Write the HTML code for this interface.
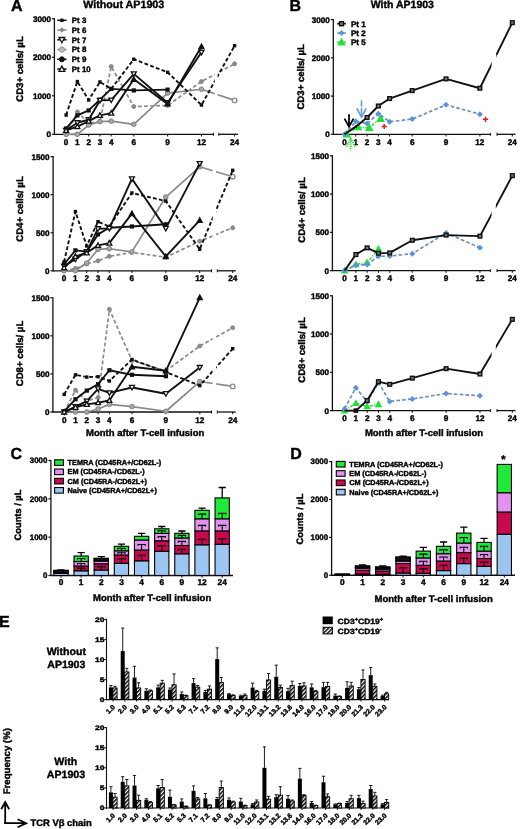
<!DOCTYPE html><html><head><meta charset="utf-8"><style>html,body{margin:0;padding:0;background:#fff;}svg{display:block;will-change:transform;font-family:"Liberation Sans",sans-serif;}text{stroke:#000;stroke-width:0.4px;text-rendering:geometricPrecision;}</style></head><body>
<svg width="520" height="829" viewBox="0 0 520 829" font-family="Liberation Sans, sans-serif" font-weight="bold">
<defs><pattern id="hatch" patternUnits="userSpaceOnUse" width="2.9" height="2.9" patternTransform="rotate(45)"><rect width="2.9" height="2.9" fill="#fff"/><rect width="1.5" height="2.9" fill="#000"/></pattern></defs>
<rect width="520" height="829" fill="#fff"/>
<text x="10.90" y="10.60" font-size="16" text-anchor="start" fill="#000" >A</text>
<text x="289.60" y="10.70" font-size="16" text-anchor="start" fill="#000" >B</text>
<text x="10.40" y="458.90" font-size="16" text-anchor="start" fill="#000" >C</text>
<text x="290.20" y="458.80" font-size="16" text-anchor="start" fill="#000" >D</text>
<text x="-1.00" y="626.70" font-size="16" text-anchor="start" fill="#000" >E</text>
<text x="83.20" y="8.00" font-size="10.72" text-anchor="start" fill="#000" >Without AP1903</text>
<text x="370.80" y="8.00" font-size="10.5" text-anchor="start" fill="#000" >With AP1903</text>
<line x1="54.40" y1="18.30" x2="54.40" y2="134.90" stroke="#111" stroke-width="1.3" />
<line x1="54.10" y1="134.30" x2="213.50" y2="134.30" stroke="#111" stroke-width="1.3" />
<line x1="218.80" y1="134.30" x2="238.00" y2="134.30" stroke="#111" stroke-width="1.3" />
<line x1="213.50" y1="132.80" x2="213.50" y2="135.80" stroke="#111" stroke-width="1.0" />
<line x1="218.80" y1="132.80" x2="218.80" y2="135.80" stroke="#111" stroke-width="1.0" />
<line x1="51.90" y1="134.30" x2="54.40" y2="134.30" stroke="#111" stroke-width="1.2" />
<text x="50.90" y="137.20" font-size="8.1" text-anchor="end" fill="#000" >0</text>
<line x1="51.90" y1="95.80" x2="54.40" y2="95.80" stroke="#111" stroke-width="1.2" />
<text x="50.90" y="98.70" font-size="8.1" text-anchor="end" fill="#000" >1000</text>
<line x1="51.90" y1="57.30" x2="54.40" y2="57.30" stroke="#111" stroke-width="1.2" />
<text x="50.90" y="60.20" font-size="8.1" text-anchor="end" fill="#000" >2000</text>
<line x1="51.90" y1="18.80" x2="54.40" y2="18.80" stroke="#111" stroke-width="1.2" />
<text x="50.90" y="21.70" font-size="8.1" text-anchor="end" fill="#000" >3000</text>
<line x1="66.10" y1="134.30" x2="66.10" y2="136.50" stroke="#111" stroke-width="1.0" />
<text x="66.10" y="144.90" font-size="8.2" text-anchor="middle" fill="#000" >0</text>
<line x1="77.38" y1="134.30" x2="77.38" y2="136.50" stroke="#111" stroke-width="1.0" />
<text x="77.38" y="144.90" font-size="8.2" text-anchor="middle" fill="#000" >1</text>
<line x1="88.66" y1="134.30" x2="88.66" y2="136.50" stroke="#111" stroke-width="1.0" />
<text x="88.66" y="144.90" font-size="8.2" text-anchor="middle" fill="#000" >2</text>
<line x1="99.94" y1="134.30" x2="99.94" y2="136.50" stroke="#111" stroke-width="1.0" />
<text x="99.94" y="144.90" font-size="8.2" text-anchor="middle" fill="#000" >3</text>
<line x1="111.22" y1="134.30" x2="111.22" y2="136.50" stroke="#111" stroke-width="1.0" />
<text x="111.22" y="144.90" font-size="8.2" text-anchor="middle" fill="#000" >4</text>
<line x1="133.78" y1="134.30" x2="133.78" y2="136.50" stroke="#111" stroke-width="1.0" />
<text x="133.78" y="144.90" font-size="8.2" text-anchor="middle" fill="#000" >6</text>
<line x1="167.62" y1="134.30" x2="167.62" y2="136.50" stroke="#111" stroke-width="1.0" />
<text x="167.62" y="144.90" font-size="8.2" text-anchor="middle" fill="#000" >9</text>
<line x1="201.46" y1="134.30" x2="201.46" y2="136.50" stroke="#111" stroke-width="1.0" />
<text x="201.46" y="144.90" font-size="8.2" text-anchor="middle" fill="#000" >12</text>
<line x1="234.60" y1="134.30" x2="234.60" y2="136.50" stroke="#111" stroke-width="1.0" />
<text x="234.60" y="144.90" font-size="8.2" text-anchor="middle" fill="#000" >24</text>
<text x="0" y="0" font-size="9.6" text-anchor="middle" dominant-baseline="central" transform="translate(20.80,69.00) rotate(-90)">CD3+ cells/ µL</text>
<path d="M66.10,134.30 L77.38,111.97 L88.66,123.14 L99.94,121.60 L111.22,66.54 L133.78,106.58 L167.62,105.43 L201.46,81.56 L234.60,63.84" fill="none" stroke="#8a8a8a" stroke-width="1.7" stroke-dasharray="3.8,2.3" stroke-linejoin="round"/>
<circle cx="66.10" cy="134.30" r="2.00" fill="#8a8a8a" stroke="#8a8a8a" stroke-width="1"/>
<circle cx="77.38" cy="111.97" r="2.00" fill="#8a8a8a" stroke="#8a8a8a" stroke-width="1"/>
<circle cx="88.66" cy="123.14" r="2.00" fill="#8a8a8a" stroke="#8a8a8a" stroke-width="1"/>
<circle cx="99.94" cy="121.60" r="2.00" fill="#8a8a8a" stroke="#8a8a8a" stroke-width="1"/>
<circle cx="111.22" cy="66.54" r="2.00" fill="#8a8a8a" stroke="#8a8a8a" stroke-width="1"/>
<circle cx="133.78" cy="106.58" r="2.00" fill="#8a8a8a" stroke="#8a8a8a" stroke-width="1"/>
<circle cx="167.62" cy="105.43" r="2.00" fill="#8a8a8a" stroke="#8a8a8a" stroke-width="1"/>
<circle cx="201.46" cy="81.56" r="2.00" fill="#8a8a8a" stroke="#8a8a8a" stroke-width="1"/>
<circle cx="234.60" cy="63.84" r="2.00" fill="#8a8a8a" stroke="#8a8a8a" stroke-width="1"/>
<path d="M66.10,134.30 L77.38,134.30 L88.66,125.06 L99.94,121.60 L111.22,121.21 L133.78,124.29 L167.62,93.11 L201.46,89.25 L234.60,100.42" fill="none" stroke="#8a8a8a" stroke-width="1.7"  stroke-linejoin="round"/>
<circle cx="66.10" cy="134.30" r="2.30" fill="#a8a8a8" stroke="#808080" stroke-width="1"/>
<circle cx="77.38" cy="134.30" r="2.30" fill="#a8a8a8" stroke="#808080" stroke-width="1"/>
<circle cx="88.66" cy="125.06" r="2.30" fill="#a8a8a8" stroke="#808080" stroke-width="1"/>
<circle cx="99.94" cy="121.60" r="2.30" fill="#a8a8a8" stroke="#808080" stroke-width="1"/>
<circle cx="111.22" cy="121.21" r="2.30" fill="#a8a8a8" stroke="#808080" stroke-width="1"/>
<circle cx="133.78" cy="124.29" r="2.30" fill="#a8a8a8" stroke="#808080" stroke-width="1"/>
<circle cx="167.62" cy="93.11" r="2.30" fill="#a8a8a8" stroke="#808080" stroke-width="1"/>
<circle cx="201.46" cy="89.25" r="2.30" fill="#a8a8a8" stroke="#808080" stroke-width="1"/>
<circle cx="234.60" cy="100.42" r="2.3" fill="#fff" stroke="#8a8a8a" stroke-width="1.3"/>
<path d="M66.10,115.05 L77.38,81.56 L88.66,100.03 L99.94,81.94 L111.22,88.87 L133.78,59.23 L167.62,72.31 L201.46,105.04 L234.60,45.75" fill="none" stroke="#111" stroke-width="1.9" stroke-dasharray="3.8,2.3" stroke-linejoin="round"/>
<rect x="64.40" y="113.35" width="3.40" height="3.40" fill="#111"/>
<rect x="75.68" y="79.86" width="3.40" height="3.40" fill="#111"/>
<rect x="86.96" y="98.33" width="3.40" height="3.40" fill="#111"/>
<rect x="98.24" y="80.24" width="3.40" height="3.40" fill="#111"/>
<rect x="109.52" y="87.17" width="3.40" height="3.40" fill="#111"/>
<rect x="132.08" y="57.53" width="3.40" height="3.40" fill="#111"/>
<rect x="165.92" y="70.61" width="3.40" height="3.40" fill="#111"/>
<rect x="199.76" y="103.34" width="3.40" height="3.40" fill="#111"/>
<rect x="232.90" y="44.05" width="3.40" height="3.40" fill="#111"/>
<path d="M66.10,128.53 L77.38,115.44 L88.66,110.43 L99.94,99.65 L111.22,88.87 L133.78,90.41 L167.62,89.64" fill="none" stroke="#111" stroke-width="1.9"  stroke-linejoin="round"/>
<rect x="64.00" y="126.43" width="4.20" height="4.20" fill="#111"/>
<rect x="75.28" y="113.34" width="4.20" height="4.20" fill="#111"/>
<rect x="86.56" y="108.33" width="4.20" height="4.20" fill="#111"/>
<rect x="97.84" y="97.55" width="4.20" height="4.20" fill="#111"/>
<rect x="109.12" y="86.77" width="4.20" height="4.20" fill="#111"/>
<rect x="131.68" y="88.31" width="4.20" height="4.20" fill="#111"/>
<rect x="165.52" y="87.54" width="4.20" height="4.20" fill="#111"/>
<path d="M66.10,130.45 L77.38,122.75 L88.66,119.67 L99.94,100.42 L111.22,100.03 L133.78,73.86 L167.62,102.73 L201.46,52.30" fill="none" stroke="#111" stroke-width="1.9"  stroke-linejoin="round"/>
<path d="M63.60,128.45 L68.60,128.45 L66.10,132.95Z" fill="#fff" stroke="#111" stroke-width="1.3"/>
<path d="M74.88,120.75 L79.88,120.75 L77.38,125.25Z" fill="#fff" stroke="#111" stroke-width="1.3"/>
<path d="M86.16,117.67 L91.16,117.67 L88.66,122.17Z" fill="#fff" stroke="#111" stroke-width="1.3"/>
<path d="M97.44,98.42 L102.44,98.42 L99.94,102.92Z" fill="#fff" stroke="#111" stroke-width="1.3"/>
<path d="M108.72,98.03 L113.72,98.03 L111.22,102.53Z" fill="#fff" stroke="#111" stroke-width="1.3"/>
<path d="M131.28,71.86 L136.28,71.86 L133.78,76.36Z" fill="#fff" stroke="#111" stroke-width="1.3"/>
<path d="M165.12,100.73 L170.12,100.73 L167.62,105.23Z" fill="#fff" stroke="#111" stroke-width="1.3"/>
<path d="M198.96,50.30 L203.96,50.30 L201.46,54.80Z" fill="#fff" stroke="#111" stroke-width="1.3"/>
<path d="M66.10,130.45 L77.38,126.60 L88.66,121.21 L99.94,115.44 L111.22,113.13 L133.78,79.25 L167.62,103.89 L201.46,46.52" fill="none" stroke="#111" stroke-width="1.9"  stroke-linejoin="round"/>
<path d="M63.60,132.45 L68.60,132.45 L66.10,127.95Z" fill="#fff" stroke="#111" stroke-width="1.3"/>
<path d="M74.88,128.60 L79.88,128.60 L77.38,124.10Z" fill="#fff" stroke="#111" stroke-width="1.3"/>
<path d="M86.16,123.21 L91.16,123.21 L88.66,118.71Z" fill="#fff" stroke="#111" stroke-width="1.3"/>
<path d="M97.44,117.44 L102.44,117.44 L99.94,112.94Z" fill="#fff" stroke="#111" stroke-width="1.3"/>
<path d="M108.72,115.13 L113.72,115.13 L111.22,110.63Z" fill="#fff" stroke="#111" stroke-width="1.3"/>
<path d="M131.28,81.25 L136.28,81.25 L133.78,76.75Z" fill="#111" stroke="#111" stroke-width="1.3"/>
<path d="M165.12,105.89 L170.12,105.89 L167.62,101.39Z" fill="#111" stroke="#111" stroke-width="1.3"/>
<path d="M198.96,48.52 L203.96,48.52 L201.46,44.02Z" fill="#111" stroke="#111" stroke-width="1.3"/>
<rect x="214.70" y="14.80" width="2.90" height="116.50" fill="#fff"/>
<line x1="53.10" y1="156.10" x2="53.10" y2="271.40" stroke="#111" stroke-width="1.3" />
<line x1="52.80" y1="270.80" x2="211.50" y2="270.80" stroke="#111" stroke-width="1.3" />
<line x1="217.30" y1="270.80" x2="235.80" y2="270.80" stroke="#111" stroke-width="1.3" />
<line x1="211.50" y1="269.30" x2="211.50" y2="272.30" stroke="#111" stroke-width="1.0" />
<line x1="217.30" y1="269.30" x2="217.30" y2="272.30" stroke="#111" stroke-width="1.0" />
<line x1="50.60" y1="270.80" x2="53.10" y2="270.80" stroke="#111" stroke-width="1.2" />
<text x="49.60" y="273.70" font-size="8.1" text-anchor="end" fill="#000" >0</text>
<line x1="50.60" y1="232.73" x2="53.10" y2="232.73" stroke="#111" stroke-width="1.2" />
<text x="49.60" y="235.63" font-size="8.1" text-anchor="end" fill="#000" >500</text>
<line x1="50.60" y1="194.67" x2="53.10" y2="194.67" stroke="#111" stroke-width="1.2" />
<text x="49.60" y="197.57" font-size="8.1" text-anchor="end" fill="#000" >1000</text>
<line x1="50.60" y1="156.60" x2="53.10" y2="156.60" stroke="#111" stroke-width="1.2" />
<text x="49.60" y="159.50" font-size="8.1" text-anchor="end" fill="#000" >1500</text>
<line x1="64.10" y1="270.80" x2="64.10" y2="273.00" stroke="#111" stroke-width="1.0" />
<text x="64.10" y="281.40" font-size="8.2" text-anchor="middle" fill="#000" >0</text>
<line x1="75.40" y1="270.80" x2="75.40" y2="273.00" stroke="#111" stroke-width="1.0" />
<text x="75.40" y="281.40" font-size="8.2" text-anchor="middle" fill="#000" >1</text>
<line x1="86.70" y1="270.80" x2="86.70" y2="273.00" stroke="#111" stroke-width="1.0" />
<text x="86.70" y="281.40" font-size="8.2" text-anchor="middle" fill="#000" >2</text>
<line x1="98.00" y1="270.80" x2="98.00" y2="273.00" stroke="#111" stroke-width="1.0" />
<text x="98.00" y="281.40" font-size="8.2" text-anchor="middle" fill="#000" >3</text>
<line x1="109.30" y1="270.80" x2="109.30" y2="273.00" stroke="#111" stroke-width="1.0" />
<text x="109.30" y="281.40" font-size="8.2" text-anchor="middle" fill="#000" >4</text>
<line x1="131.90" y1="270.80" x2="131.90" y2="273.00" stroke="#111" stroke-width="1.0" />
<text x="131.90" y="281.40" font-size="8.2" text-anchor="middle" fill="#000" >6</text>
<line x1="165.80" y1="270.80" x2="165.80" y2="273.00" stroke="#111" stroke-width="1.0" />
<text x="165.80" y="281.40" font-size="8.2" text-anchor="middle" fill="#000" >9</text>
<line x1="199.70" y1="270.80" x2="199.70" y2="273.00" stroke="#111" stroke-width="1.0" />
<text x="199.70" y="281.40" font-size="8.2" text-anchor="middle" fill="#000" >12</text>
<line x1="232.70" y1="270.80" x2="232.70" y2="273.00" stroke="#111" stroke-width="1.0" />
<text x="232.70" y="281.40" font-size="8.2" text-anchor="middle" fill="#000" >24</text>
<text x="0" y="0" font-size="9.6" text-anchor="middle" dominant-baseline="central" transform="translate(20.50,209.00) rotate(-90)">CD4+ cells/ µL</text>
<path d="M64.10,270.80 L75.40,268.52 L86.70,263.95 L98.00,260.83 L109.30,256.33 L131.90,252.38 L165.80,257.25 L199.70,241.18 L232.70,227.78" fill="none" stroke="#8a8a8a" stroke-width="1.7" stroke-dasharray="3.8,2.3" stroke-linejoin="round"/>
<circle cx="64.10" cy="270.80" r="2.00" fill="#8a8a8a" stroke="#8a8a8a" stroke-width="1"/>
<circle cx="75.40" cy="268.52" r="2.00" fill="#8a8a8a" stroke="#8a8a8a" stroke-width="1"/>
<circle cx="86.70" cy="263.95" r="2.00" fill="#8a8a8a" stroke="#8a8a8a" stroke-width="1"/>
<circle cx="98.00" cy="260.83" r="2.00" fill="#8a8a8a" stroke="#8a8a8a" stroke-width="1"/>
<circle cx="109.30" cy="256.33" r="2.00" fill="#8a8a8a" stroke="#8a8a8a" stroke-width="1"/>
<circle cx="131.90" cy="252.38" r="2.00" fill="#8a8a8a" stroke="#8a8a8a" stroke-width="1"/>
<circle cx="165.80" cy="257.25" r="2.00" fill="#8a8a8a" stroke="#8a8a8a" stroke-width="1"/>
<circle cx="199.70" cy="241.18" r="2.00" fill="#8a8a8a" stroke="#8a8a8a" stroke-width="1"/>
<circle cx="232.70" cy="227.78" r="2.00" fill="#8a8a8a" stroke="#8a8a8a" stroke-width="1"/>
<path d="M64.10,270.80 L75.40,270.80 L86.70,263.03 L98.00,249.33 L109.30,248.72 L131.90,251.92 L165.80,197.03 L199.70,166.80 L232.70,176.70" fill="none" stroke="#8a8a8a" stroke-width="1.7"  stroke-linejoin="round"/>
<circle cx="64.10" cy="270.80" r="2.30" fill="#a8a8a8" stroke="#808080" stroke-width="1"/>
<circle cx="75.40" cy="270.80" r="2.30" fill="#a8a8a8" stroke="#808080" stroke-width="1"/>
<circle cx="86.70" cy="263.03" r="2.30" fill="#a8a8a8" stroke="#808080" stroke-width="1"/>
<circle cx="98.00" cy="249.33" r="2.30" fill="#a8a8a8" stroke="#808080" stroke-width="1"/>
<circle cx="109.30" cy="248.72" r="2.30" fill="#a8a8a8" stroke="#808080" stroke-width="1"/>
<circle cx="131.90" cy="251.92" r="2.30" fill="#a8a8a8" stroke="#808080" stroke-width="1"/>
<circle cx="165.80" cy="197.03" r="2.30" fill="#a8a8a8" stroke="#808080" stroke-width="1"/>
<circle cx="199.70" cy="166.80" r="2.30" fill="#a8a8a8" stroke="#808080" stroke-width="1"/>
<circle cx="232.70" cy="176.70" r="2.3" fill="#fff" stroke="#8a8a8a" stroke-width="1.3"/>
<path d="M64.10,261.97 L75.40,211.57 L86.70,245.98 L98.00,221.62 L109.30,226.49 L131.90,192.99 L165.80,201.06 L199.70,249.25 L232.70,170.30" fill="none" stroke="#111" stroke-width="1.9" stroke-dasharray="3.8,2.3" stroke-linejoin="round"/>
<rect x="62.40" y="260.27" width="3.40" height="3.40" fill="#111"/>
<rect x="73.70" y="209.87" width="3.40" height="3.40" fill="#111"/>
<rect x="85.00" y="244.28" width="3.40" height="3.40" fill="#111"/>
<rect x="96.30" y="219.92" width="3.40" height="3.40" fill="#111"/>
<rect x="107.60" y="224.79" width="3.40" height="3.40" fill="#111"/>
<rect x="130.20" y="191.29" width="3.40" height="3.40" fill="#111"/>
<rect x="164.10" y="199.36" width="3.40" height="3.40" fill="#111"/>
<rect x="198.00" y="247.55" width="3.40" height="3.40" fill="#111"/>
<rect x="231.00" y="168.60" width="3.40" height="3.40" fill="#111"/>
<path d="M64.10,264.25 L75.40,250.32 L86.70,251.61 L98.00,234.41 L109.30,227.78 L131.90,226.49 L165.80,224.28" fill="none" stroke="#111" stroke-width="1.9"  stroke-linejoin="round"/>
<rect x="62.00" y="262.15" width="4.20" height="4.20" fill="#111"/>
<rect x="73.30" y="248.22" width="4.20" height="4.20" fill="#111"/>
<rect x="84.60" y="249.51" width="4.20" height="4.20" fill="#111"/>
<rect x="95.90" y="232.31" width="4.20" height="4.20" fill="#111"/>
<rect x="107.20" y="225.68" width="4.20" height="4.20" fill="#111"/>
<rect x="129.80" y="224.39" width="4.20" height="4.20" fill="#111"/>
<rect x="163.70" y="222.18" width="4.20" height="4.20" fill="#111"/>
<path d="M64.10,266.23 L75.40,259.08 L86.70,251.61 L98.00,228.77 L109.30,228.39 L131.90,178.83 L165.80,228.39 L199.70,163.60" fill="none" stroke="#111" stroke-width="1.9"  stroke-linejoin="round"/>
<path d="M61.60,264.23 L66.60,264.23 L64.10,268.73Z" fill="#fff" stroke="#111" stroke-width="1.3"/>
<path d="M72.90,257.08 L77.90,257.08 L75.40,261.58Z" fill="#fff" stroke="#111" stroke-width="1.3"/>
<path d="M84.20,249.61 L89.20,249.61 L86.70,254.11Z" fill="#fff" stroke="#111" stroke-width="1.3"/>
<path d="M95.50,226.77 L100.50,226.77 L98.00,231.27Z" fill="#fff" stroke="#111" stroke-width="1.3"/>
<path d="M106.80,226.39 L111.80,226.39 L109.30,230.89Z" fill="#fff" stroke="#111" stroke-width="1.3"/>
<path d="M129.40,176.83 L134.40,176.83 L131.90,181.33Z" fill="#fff" stroke="#111" stroke-width="1.3"/>
<path d="M163.30,226.39 L168.30,226.39 L165.80,230.89Z" fill="#fff" stroke="#111" stroke-width="1.3"/>
<path d="M197.20,161.60 L202.20,161.60 L199.70,166.10Z" fill="#fff" stroke="#111" stroke-width="1.3"/>
<path d="M64.10,267.75 L75.40,256.33 L86.70,252.83 L98.00,245.37 L109.30,243.09 L131.90,213.62 L165.80,256.49 L199.70,220.32" fill="none" stroke="#111" stroke-width="1.9"  stroke-linejoin="round"/>
<path d="M61.60,269.75 L66.60,269.75 L64.10,265.25Z" fill="#fff" stroke="#111" stroke-width="1.3"/>
<path d="M72.90,258.33 L77.90,258.33 L75.40,253.83Z" fill="#fff" stroke="#111" stroke-width="1.3"/>
<path d="M84.20,254.83 L89.20,254.83 L86.70,250.33Z" fill="#fff" stroke="#111" stroke-width="1.3"/>
<path d="M95.50,247.37 L100.50,247.37 L98.00,242.87Z" fill="#fff" stroke="#111" stroke-width="1.3"/>
<path d="M106.80,245.09 L111.80,245.09 L109.30,240.59Z" fill="#fff" stroke="#111" stroke-width="1.3"/>
<path d="M129.40,215.62 L134.40,215.62 L131.90,211.12Z" fill="#111" stroke="#111" stroke-width="1.3"/>
<path d="M163.30,258.49 L168.30,258.49 L165.80,253.99Z" fill="#111" stroke="#111" stroke-width="1.3"/>
<path d="M197.20,222.32 L202.20,222.32 L199.70,217.82Z" fill="#111" stroke="#111" stroke-width="1.3"/>
<rect x="212.70" y="152.60" width="3.40" height="115.20" fill="#fff"/>
<line x1="52.90" y1="297.20" x2="52.90" y2="412.60" stroke="#111" stroke-width="1.3" />
<line x1="52.60" y1="412.00" x2="211.50" y2="412.00" stroke="#111" stroke-width="1.3" />
<line x1="217.30" y1="412.00" x2="235.80" y2="412.00" stroke="#111" stroke-width="1.3" />
<line x1="211.50" y1="410.50" x2="211.50" y2="413.50" stroke="#111" stroke-width="1.0" />
<line x1="217.30" y1="410.50" x2="217.30" y2="413.50" stroke="#111" stroke-width="1.0" />
<line x1="50.40" y1="412.00" x2="52.90" y2="412.00" stroke="#111" stroke-width="1.2" />
<text x="49.40" y="414.90" font-size="8.1" text-anchor="end" fill="#000" >0</text>
<line x1="50.40" y1="373.90" x2="52.90" y2="373.90" stroke="#111" stroke-width="1.2" />
<text x="49.40" y="376.80" font-size="8.1" text-anchor="end" fill="#000" >500</text>
<line x1="50.40" y1="335.80" x2="52.90" y2="335.80" stroke="#111" stroke-width="1.2" />
<text x="49.40" y="338.70" font-size="8.1" text-anchor="end" fill="#000" >1000</text>
<line x1="50.40" y1="297.70" x2="52.90" y2="297.70" stroke="#111" stroke-width="1.2" />
<text x="49.40" y="300.60" font-size="8.1" text-anchor="end" fill="#000" >1500</text>
<line x1="64.20" y1="412.00" x2="64.20" y2="414.20" stroke="#111" stroke-width="1.0" />
<text x="64.20" y="422.60" font-size="8.2" text-anchor="middle" fill="#000" >0</text>
<line x1="75.50" y1="412.00" x2="75.50" y2="414.20" stroke="#111" stroke-width="1.0" />
<text x="75.50" y="422.60" font-size="8.2" text-anchor="middle" fill="#000" >1</text>
<line x1="86.80" y1="412.00" x2="86.80" y2="414.20" stroke="#111" stroke-width="1.0" />
<text x="86.80" y="422.60" font-size="8.2" text-anchor="middle" fill="#000" >2</text>
<line x1="98.10" y1="412.00" x2="98.10" y2="414.20" stroke="#111" stroke-width="1.0" />
<text x="98.10" y="422.60" font-size="8.2" text-anchor="middle" fill="#000" >3</text>
<line x1="109.40" y1="412.00" x2="109.40" y2="414.20" stroke="#111" stroke-width="1.0" />
<text x="109.40" y="422.60" font-size="8.2" text-anchor="middle" fill="#000" >4</text>
<line x1="132.00" y1="412.00" x2="132.00" y2="414.20" stroke="#111" stroke-width="1.0" />
<text x="132.00" y="422.60" font-size="8.2" text-anchor="middle" fill="#000" >6</text>
<line x1="165.90" y1="412.00" x2="165.90" y2="414.20" stroke="#111" stroke-width="1.0" />
<text x="165.90" y="422.60" font-size="8.2" text-anchor="middle" fill="#000" >9</text>
<line x1="199.80" y1="412.00" x2="199.80" y2="414.20" stroke="#111" stroke-width="1.0" />
<text x="199.80" y="422.60" font-size="8.2" text-anchor="middle" fill="#000" >12</text>
<line x1="232.70" y1="412.00" x2="232.70" y2="414.20" stroke="#111" stroke-width="1.0" />
<text x="232.70" y="422.60" font-size="8.2" text-anchor="middle" fill="#000" >24</text>
<text x="0" y="0" font-size="9.6" text-anchor="middle" dominant-baseline="central" transform="translate(20.30,353.50) rotate(-90)">CD8+ cells/ µL</text>
<path d="M64.20,412.00 L75.50,390.21 L86.80,401.03 L98.10,397.52 L109.40,309.36 L132.00,360.49 L165.90,370.78 L199.80,346.01 L232.70,327.72" fill="none" stroke="#8a8a8a" stroke-width="1.7" stroke-dasharray="3.8,2.3" stroke-linejoin="round"/>
<circle cx="64.20" cy="412.00" r="2.00" fill="#8a8a8a" stroke="#8a8a8a" stroke-width="1"/>
<circle cx="75.50" cy="390.21" r="2.00" fill="#8a8a8a" stroke="#8a8a8a" stroke-width="1"/>
<circle cx="86.80" cy="401.03" r="2.00" fill="#8a8a8a" stroke="#8a8a8a" stroke-width="1"/>
<circle cx="98.10" cy="397.52" r="2.00" fill="#8a8a8a" stroke="#8a8a8a" stroke-width="1"/>
<circle cx="109.40" cy="309.36" r="2.00" fill="#8a8a8a" stroke="#8a8a8a" stroke-width="1"/>
<circle cx="132.00" cy="360.49" r="2.00" fill="#8a8a8a" stroke="#8a8a8a" stroke-width="1"/>
<circle cx="165.90" cy="370.78" r="2.00" fill="#8a8a8a" stroke="#8a8a8a" stroke-width="1"/>
<circle cx="199.80" cy="346.01" r="2.00" fill="#8a8a8a" stroke="#8a8a8a" stroke-width="1"/>
<circle cx="232.70" cy="327.72" r="2.00" fill="#8a8a8a" stroke="#8a8a8a" stroke-width="1"/>
<path d="M64.20,412.00 L75.50,412.00 L86.80,412.00 L98.10,408.95 L109.40,404.38 L132.00,406.59 L165.90,411.24 L199.80,381.52 L232.70,386.40" fill="none" stroke="#8a8a8a" stroke-width="1.7"  stroke-linejoin="round"/>
<circle cx="64.20" cy="412.00" r="2.30" fill="#a8a8a8" stroke="#808080" stroke-width="1"/>
<circle cx="75.50" cy="412.00" r="2.30" fill="#a8a8a8" stroke="#808080" stroke-width="1"/>
<circle cx="86.80" cy="412.00" r="2.30" fill="#a8a8a8" stroke="#808080" stroke-width="1"/>
<circle cx="98.10" cy="408.95" r="2.30" fill="#a8a8a8" stroke="#808080" stroke-width="1"/>
<circle cx="109.40" cy="404.38" r="2.30" fill="#a8a8a8" stroke="#808080" stroke-width="1"/>
<circle cx="132.00" cy="406.59" r="2.30" fill="#a8a8a8" stroke="#808080" stroke-width="1"/>
<circle cx="165.90" cy="411.24" r="2.30" fill="#a8a8a8" stroke="#808080" stroke-width="1"/>
<circle cx="199.80" cy="381.52" r="2.30" fill="#a8a8a8" stroke="#808080" stroke-width="1"/>
<circle cx="232.70" cy="386.40" r="2.3" fill="#fff" stroke="#8a8a8a" stroke-width="1.3"/>
<path d="M64.20,394.40 L75.50,374.81 L86.80,377.10 L98.10,376.72 L109.40,380.99 L132.00,359.50 L165.90,372.07 L199.80,385.63 L232.70,348.68" fill="none" stroke="#111" stroke-width="1.9" stroke-dasharray="3.8,2.3" stroke-linejoin="round"/>
<rect x="62.50" y="392.70" width="3.40" height="3.40" fill="#111"/>
<rect x="73.80" y="373.11" width="3.40" height="3.40" fill="#111"/>
<rect x="85.10" y="375.40" width="3.40" height="3.40" fill="#111"/>
<rect x="96.40" y="375.02" width="3.40" height="3.40" fill="#111"/>
<rect x="107.70" y="379.29" width="3.40" height="3.40" fill="#111"/>
<rect x="130.30" y="357.80" width="3.40" height="3.40" fill="#111"/>
<rect x="164.20" y="370.37" width="3.40" height="3.40" fill="#111"/>
<rect x="198.10" y="383.93" width="3.40" height="3.40" fill="#111"/>
<rect x="231.00" y="346.98" width="3.40" height="3.40" fill="#111"/>
<path d="M64.20,411.31 L75.50,399.20 L86.80,390.59 L98.10,384.19 L109.40,370.24 L132.00,374.81 L165.90,376.19" fill="none" stroke="#111" stroke-width="1.9"  stroke-linejoin="round"/>
<rect x="62.10" y="409.21" width="4.20" height="4.20" fill="#111"/>
<rect x="73.40" y="397.10" width="4.20" height="4.20" fill="#111"/>
<rect x="84.70" y="388.49" width="4.20" height="4.20" fill="#111"/>
<rect x="96.00" y="382.09" width="4.20" height="4.20" fill="#111"/>
<rect x="107.30" y="368.14" width="4.20" height="4.20" fill="#111"/>
<rect x="129.90" y="372.71" width="4.20" height="4.20" fill="#111"/>
<rect x="163.80" y="374.09" width="4.20" height="4.20" fill="#111"/>
<path d="M64.20,412.00 L75.50,406.67 L86.80,401.03 L98.10,388.84 L109.40,392.87 L132.00,387.46 L165.90,393.71 L199.80,367.50" fill="none" stroke="#111" stroke-width="1.9"  stroke-linejoin="round"/>
<path d="M61.70,410.00 L66.70,410.00 L64.20,414.50Z" fill="#fff" stroke="#111" stroke-width="1.3"/>
<path d="M73.00,404.67 L78.00,404.67 L75.50,409.17Z" fill="#fff" stroke="#111" stroke-width="1.3"/>
<path d="M84.30,399.03 L89.30,399.03 L86.80,403.53Z" fill="#fff" stroke="#111" stroke-width="1.3"/>
<path d="M95.60,386.84 L100.60,386.84 L98.10,391.34Z" fill="#fff" stroke="#111" stroke-width="1.3"/>
<path d="M106.90,390.87 L111.90,390.87 L109.40,395.37Z" fill="#fff" stroke="#111" stroke-width="1.3"/>
<path d="M129.50,385.46 L134.50,385.46 L132.00,389.96Z" fill="#fff" stroke="#111" stroke-width="1.3"/>
<path d="M163.40,391.71 L168.40,391.71 L165.90,396.21Z" fill="#fff" stroke="#111" stroke-width="1.3"/>
<path d="M197.30,365.50 L202.30,365.50 L199.80,370.00Z" fill="#fff" stroke="#111" stroke-width="1.3"/>
<path d="M64.20,412.00 L75.50,407.28 L86.80,404.38 L98.10,402.70 L109.40,400.42 L132.00,366.74 L165.90,370.78 L199.80,297.55" fill="none" stroke="#111" stroke-width="1.9"  stroke-linejoin="round"/>
<path d="M61.70,414.00 L66.70,414.00 L64.20,409.50Z" fill="#fff" stroke="#111" stroke-width="1.3"/>
<path d="M73.00,409.28 L78.00,409.28 L75.50,404.78Z" fill="#fff" stroke="#111" stroke-width="1.3"/>
<path d="M84.30,406.38 L89.30,406.38 L86.80,401.88Z" fill="#fff" stroke="#111" stroke-width="1.3"/>
<path d="M95.60,404.70 L100.60,404.70 L98.10,400.20Z" fill="#fff" stroke="#111" stroke-width="1.3"/>
<path d="M106.90,402.42 L111.90,402.42 L109.40,397.92Z" fill="#fff" stroke="#111" stroke-width="1.3"/>
<path d="M129.50,368.74 L134.50,368.74 L132.00,364.24Z" fill="#111" stroke="#111" stroke-width="1.3"/>
<path d="M163.40,372.78 L168.40,372.78 L165.90,368.28Z" fill="#111" stroke="#111" stroke-width="1.3"/>
<path d="M197.30,299.55 L202.30,299.55 L199.80,295.05Z" fill="#111" stroke="#111" stroke-width="1.3"/>
<rect x="212.70" y="293.70" width="3.40" height="115.30" fill="#fff"/>
<line x1="333.30" y1="19.10" x2="333.30" y2="134.90" stroke="#111" stroke-width="1.3" />
<line x1="333.00" y1="134.30" x2="490.40" y2="134.30" stroke="#111" stroke-width="1.3" />
<line x1="497.00" y1="134.30" x2="515.50" y2="134.30" stroke="#111" stroke-width="1.3" />
<line x1="490.40" y1="132.80" x2="490.40" y2="135.80" stroke="#111" stroke-width="1.0" />
<line x1="497.00" y1="132.80" x2="497.00" y2="135.80" stroke="#111" stroke-width="1.0" />
<line x1="330.80" y1="134.30" x2="333.30" y2="134.30" stroke="#111" stroke-width="1.2" />
<text x="329.80" y="137.20" font-size="8.1" text-anchor="end" fill="#000" >0</text>
<line x1="330.80" y1="96.07" x2="333.30" y2="96.07" stroke="#111" stroke-width="1.2" />
<text x="329.80" y="98.97" font-size="8.1" text-anchor="end" fill="#000" >1000</text>
<line x1="330.80" y1="57.83" x2="333.30" y2="57.83" stroke="#111" stroke-width="1.2" />
<text x="329.80" y="60.73" font-size="8.1" text-anchor="end" fill="#000" >2000</text>
<line x1="330.80" y1="19.60" x2="333.30" y2="19.60" stroke="#111" stroke-width="1.2" />
<text x="329.80" y="22.50" font-size="8.1" text-anchor="end" fill="#000" >3000</text>
<line x1="344.50" y1="134.30" x2="344.50" y2="136.50" stroke="#111" stroke-width="1.0" />
<text x="344.50" y="144.90" font-size="8.2" text-anchor="middle" fill="#000" >0</text>
<line x1="355.78" y1="134.30" x2="355.78" y2="136.50" stroke="#111" stroke-width="1.0" />
<text x="355.78" y="144.90" font-size="8.2" text-anchor="middle" fill="#000" >1</text>
<line x1="367.06" y1="134.30" x2="367.06" y2="136.50" stroke="#111" stroke-width="1.0" />
<text x="367.06" y="144.90" font-size="8.2" text-anchor="middle" fill="#000" >2</text>
<line x1="378.34" y1="134.30" x2="378.34" y2="136.50" stroke="#111" stroke-width="1.0" />
<text x="378.34" y="144.90" font-size="8.2" text-anchor="middle" fill="#000" >3</text>
<line x1="389.62" y1="134.30" x2="389.62" y2="136.50" stroke="#111" stroke-width="1.0" />
<text x="389.62" y="144.90" font-size="8.2" text-anchor="middle" fill="#000" >4</text>
<line x1="412.18" y1="134.30" x2="412.18" y2="136.50" stroke="#111" stroke-width="1.0" />
<text x="412.18" y="144.90" font-size="8.2" text-anchor="middle" fill="#000" >6</text>
<line x1="446.02" y1="134.30" x2="446.02" y2="136.50" stroke="#111" stroke-width="1.0" />
<text x="446.02" y="144.90" font-size="8.2" text-anchor="middle" fill="#000" >9</text>
<line x1="479.86" y1="134.30" x2="479.86" y2="136.50" stroke="#111" stroke-width="1.0" />
<text x="479.86" y="144.90" font-size="8.2" text-anchor="middle" fill="#000" >12</text>
<line x1="512.30" y1="134.30" x2="512.30" y2="136.50" stroke="#111" stroke-width="1.0" />
<text x="512.30" y="144.90" font-size="8.2" text-anchor="middle" fill="#000" >24</text>
<text x="0" y="0" font-size="9.6" text-anchor="middle" dominant-baseline="central" transform="translate(301.30,76.80) rotate(-90)">CD3+ cells/ µL</text>
<path d="M346.70,134.30 L357.98,127.04 L369.26,127.80 L380.54,118.62" fill="none" stroke="#22e033" stroke-width="1.5" stroke-dasharray="3,1.5,1,1.5" stroke-linejoin="round"/>
<path d="M343.40,136.94 L350.00,136.94 L346.70,131.00Z" fill="#22e033" stroke="#22e033" stroke-width="1.3"/>
<path d="M354.68,129.68 L361.28,129.68 L357.98,123.74Z" fill="#22e033" stroke="#22e033" stroke-width="1.3"/>
<path d="M365.96,130.44 L372.56,130.44 L369.26,124.50Z" fill="#22e033" stroke="#22e033" stroke-width="1.3"/>
<path d="M377.24,121.26 L383.84,121.26 L380.54,115.32Z" fill="#22e033" stroke="#22e033" stroke-width="1.3"/>
<path d="M344.50,134.30 L355.78,121.30 L367.06,123.59 L378.34,113.65 L389.62,121.68 L412.18,119.12 L446.02,104.86 L479.86,114.19" fill="none" stroke="#6f8fc0" stroke-width="1.7" stroke-dasharray="3.6,2.2" stroke-linejoin="round"/>
<path d="M344.50,131.30 L347.50,134.30 L344.50,137.30 L341.50,134.30Z" fill="#5a92dc"/>
<path d="M355.78,118.30 L358.78,121.30 L355.78,124.30 L352.78,121.30Z" fill="#5a92dc"/>
<path d="M367.06,120.59 L370.06,123.59 L367.06,126.59 L364.06,123.59Z" fill="#5a92dc"/>
<path d="M378.34,110.65 L381.34,113.65 L378.34,116.65 L375.34,113.65Z" fill="#5a92dc"/>
<path d="M389.62,118.68 L392.62,121.68 L389.62,124.68 L386.62,121.68Z" fill="#5a92dc"/>
<path d="M412.18,116.12 L415.18,119.12 L412.18,122.12 L409.18,119.12Z" fill="#5a92dc"/>
<path d="M446.02,101.86 L449.02,104.86 L446.02,107.86 L443.02,104.86Z" fill="#5a92dc"/>
<path d="M479.86,111.19 L482.86,114.19 L479.86,117.19 L476.86,114.19Z" fill="#5a92dc"/>
<path d="M344.50,134.30 L355.78,126.65 L367.06,117.48 L378.34,106.01 L389.62,98.55 L412.18,90.60 L446.02,78.86 L479.86,88.23 L512.30,22.66" fill="none" stroke="#111" stroke-width="1.9"  stroke-linejoin="round"/>
<circle cx="355.78" cy="126.65" r="1.3" fill="#111"/>
<rect x="365.21" y="115.63" width="3.70" height="3.70" fill="#777" stroke="#111" stroke-width="1.4"/>
<rect x="376.49" y="104.16" width="3.70" height="3.70" fill="#777" stroke="#111" stroke-width="1.4"/>
<rect x="387.77" y="96.70" width="3.70" height="3.70" fill="#777" stroke="#111" stroke-width="1.4"/>
<rect x="410.33" y="88.75" width="3.70" height="3.70" fill="#777" stroke="#111" stroke-width="1.4"/>
<rect x="444.17" y="77.01" width="3.70" height="3.70" fill="#777" stroke="#111" stroke-width="1.4"/>
<rect x="478.01" y="86.38" width="3.70" height="3.70" fill="#777" stroke="#111" stroke-width="1.4"/>
<rect x="510.45" y="20.81" width="3.70" height="3.70" fill="#777" stroke="#111" stroke-width="1.4"/>
<rect x="491.60" y="15.60" width="4.20" height="115.70" fill="#fff"/>
<rect x="492.00" y="54.30" width="4.40" height="4.40" fill="#fff"/>
<path d="M381.60,126.50 H386.80 M384.20,123.90 V129.10" stroke="#e0182a" stroke-width="1.5"/>
<path d="M482.90,119.30 H488.10 M485.50,116.70 V121.90" stroke="#e0182a" stroke-width="1.5"/>
<path d="M349.00,114.20 V126.10" fill="none" stroke="#000" stroke-width="1.8" /><path d="M344.50,118.60 L349.00,126.60 L353.50,118.60" fill="none" stroke="#000" stroke-width="1.8" stroke-linejoin="miter"/>
<path d="M361.50,100.20 V116.50" fill="none" stroke="#5f9be0" stroke-width="1.6" stroke-dasharray="6.5,1.2"/><path d="M356.80,108.40 L361.50,117.00 L366.20,108.40" fill="none" stroke="#5f9be0" stroke-width="1.6" stroke-linejoin="miter"/>
<path d="M346.6,146.6 L350.7,138.4 L355.2,146.6 M350.7,139 V150.5" fill="none" stroke="#22e033" stroke-width="1.7" stroke-dasharray="1.3,0.9"/>
<line x1="332.40" y1="155.30" x2="332.40" y2="271.20" stroke="#111" stroke-width="1.3" />
<line x1="332.10" y1="270.60" x2="490.40" y2="270.60" stroke="#111" stroke-width="1.3" />
<line x1="497.00" y1="270.60" x2="515.50" y2="270.60" stroke="#111" stroke-width="1.3" />
<line x1="490.40" y1="269.10" x2="490.40" y2="272.10" stroke="#111" stroke-width="1.0" />
<line x1="497.00" y1="269.10" x2="497.00" y2="272.10" stroke="#111" stroke-width="1.0" />
<line x1="329.90" y1="270.60" x2="332.40" y2="270.60" stroke="#111" stroke-width="1.2" />
<text x="328.90" y="273.50" font-size="8.1" text-anchor="end" fill="#000" >0</text>
<line x1="329.90" y1="232.33" x2="332.40" y2="232.33" stroke="#111" stroke-width="1.2" />
<text x="328.90" y="235.23" font-size="8.1" text-anchor="end" fill="#000" >500</text>
<line x1="329.90" y1="194.07" x2="332.40" y2="194.07" stroke="#111" stroke-width="1.2" />
<text x="328.90" y="196.97" font-size="8.1" text-anchor="end" fill="#000" >1000</text>
<line x1="329.90" y1="155.80" x2="332.40" y2="155.80" stroke="#111" stroke-width="1.2" />
<text x="328.90" y="158.70" font-size="8.1" text-anchor="end" fill="#000" >1500</text>
<line x1="344.60" y1="270.60" x2="344.60" y2="272.80" stroke="#111" stroke-width="1.0" />
<text x="344.60" y="281.20" font-size="8.2" text-anchor="middle" fill="#000" >0</text>
<line x1="355.88" y1="270.60" x2="355.88" y2="272.80" stroke="#111" stroke-width="1.0" />
<text x="355.88" y="281.20" font-size="8.2" text-anchor="middle" fill="#000" >1</text>
<line x1="367.16" y1="270.60" x2="367.16" y2="272.80" stroke="#111" stroke-width="1.0" />
<text x="367.16" y="281.20" font-size="8.2" text-anchor="middle" fill="#000" >2</text>
<line x1="378.44" y1="270.60" x2="378.44" y2="272.80" stroke="#111" stroke-width="1.0" />
<text x="378.44" y="281.20" font-size="8.2" text-anchor="middle" fill="#000" >3</text>
<line x1="389.72" y1="270.60" x2="389.72" y2="272.80" stroke="#111" stroke-width="1.0" />
<text x="389.72" y="281.20" font-size="8.2" text-anchor="middle" fill="#000" >4</text>
<line x1="412.28" y1="270.60" x2="412.28" y2="272.80" stroke="#111" stroke-width="1.0" />
<text x="412.28" y="281.20" font-size="8.2" text-anchor="middle" fill="#000" >6</text>
<line x1="446.12" y1="270.60" x2="446.12" y2="272.80" stroke="#111" stroke-width="1.0" />
<text x="446.12" y="281.20" font-size="8.2" text-anchor="middle" fill="#000" >9</text>
<line x1="479.96" y1="270.60" x2="479.96" y2="272.80" stroke="#111" stroke-width="1.0" />
<text x="479.96" y="281.20" font-size="8.2" text-anchor="middle" fill="#000" >12</text>
<line x1="512.30" y1="270.60" x2="512.30" y2="272.80" stroke="#111" stroke-width="1.0" />
<text x="512.30" y="281.20" font-size="8.2" text-anchor="middle" fill="#000" >24</text>
<text x="0" y="0" font-size="9.6" text-anchor="middle" dominant-baseline="central" transform="translate(302.30,210.00) rotate(-90)">CD4+ cells/ µL</text>
<path d="M344.60,270.60 L355.88,264.48 L367.16,262.64 L378.44,249.02" fill="none" stroke="#22e033" stroke-width="1.5" stroke-dasharray="3,1.5,1,1.5" stroke-linejoin="round"/>
<path d="M341.90,272.76 L347.30,272.76 L344.60,267.90Z" fill="#22e033" stroke="#22e033" stroke-width="1.3"/>
<path d="M353.18,266.64 L358.58,266.64 L355.88,261.78Z" fill="#22e033" stroke="#22e033" stroke-width="1.3"/>
<path d="M364.46,264.80 L369.86,264.80 L367.16,259.94Z" fill="#22e033" stroke="#22e033" stroke-width="1.3"/>
<path d="M375.74,251.18 L381.14,251.18 L378.44,246.32Z" fill="#22e033" stroke="#22e033" stroke-width="1.3"/>
<path d="M344.60,270.60 L355.88,265.24 L367.16,264.48 L378.44,256.29 L389.72,256.06 L412.28,253.69 L446.12,232.95 L479.96,247.72" fill="none" stroke="#6f8fc0" stroke-width="1.7" stroke-dasharray="3.6,2.2" stroke-linejoin="round"/>
<path d="M344.60,267.60 L347.60,270.60 L344.60,273.60 L341.60,270.60Z" fill="#5a92dc"/>
<path d="M355.88,262.24 L358.88,265.24 L355.88,268.24 L352.88,265.24Z" fill="#5a92dc"/>
<path d="M367.16,261.48 L370.16,264.48 L367.16,267.48 L364.16,264.48Z" fill="#5a92dc"/>
<path d="M378.44,253.29 L381.44,256.29 L378.44,259.29 L375.44,256.29Z" fill="#5a92dc"/>
<path d="M389.72,253.06 L392.72,256.06 L389.72,259.06 L386.72,256.06Z" fill="#5a92dc"/>
<path d="M412.28,250.69 L415.28,253.69 L412.28,256.69 L409.28,253.69Z" fill="#5a92dc"/>
<path d="M446.12,229.95 L449.12,232.95 L446.12,235.95 L443.12,232.95Z" fill="#5a92dc"/>
<path d="M479.96,244.72 L482.96,247.72 L479.96,250.72 L476.96,247.72Z" fill="#5a92dc"/>
<path d="M344.60,270.60 L355.88,254.53 L367.16,247.87 L378.44,253.23 L389.72,252.92 L412.28,240.29 L446.12,235.09 L479.96,236.16 L512.30,175.62" fill="none" stroke="#111" stroke-width="1.9"  stroke-linejoin="round"/>
<rect x="354.03" y="252.68" width="3.70" height="3.70" fill="#777" stroke="#111" stroke-width="1.4"/>
<rect x="365.31" y="246.02" width="3.70" height="3.70" fill="#777" stroke="#111" stroke-width="1.4"/>
<rect x="376.59" y="251.38" width="3.70" height="3.70" fill="#777" stroke="#111" stroke-width="1.4"/>
<rect x="387.87" y="251.07" width="3.70" height="3.70" fill="#777" stroke="#111" stroke-width="1.4"/>
<rect x="410.43" y="238.44" width="3.70" height="3.70" fill="#777" stroke="#111" stroke-width="1.4"/>
<rect x="444.27" y="233.24" width="3.70" height="3.70" fill="#777" stroke="#111" stroke-width="1.4"/>
<rect x="478.11" y="234.31" width="3.70" height="3.70" fill="#777" stroke="#111" stroke-width="1.4"/>
<rect x="510.45" y="173.77" width="3.70" height="3.70" fill="#777" stroke="#111" stroke-width="1.4"/>
<rect x="491.60" y="151.80" width="4.20" height="115.80" fill="#fff"/>
<rect x="492.20" y="209.10" width="4.40" height="4.40" fill="#fff"/>
<line x1="332.40" y1="295.30" x2="332.40" y2="411.20" stroke="#111" stroke-width="1.3" />
<line x1="332.10" y1="410.60" x2="490.40" y2="410.60" stroke="#111" stroke-width="1.3" />
<line x1="497.00" y1="410.60" x2="515.50" y2="410.60" stroke="#111" stroke-width="1.3" />
<line x1="490.40" y1="409.10" x2="490.40" y2="412.10" stroke="#111" stroke-width="1.0" />
<line x1="497.00" y1="409.10" x2="497.00" y2="412.10" stroke="#111" stroke-width="1.0" />
<line x1="329.90" y1="410.60" x2="332.40" y2="410.60" stroke="#111" stroke-width="1.2" />
<text x="328.90" y="413.50" font-size="8.1" text-anchor="end" fill="#000" >0</text>
<line x1="329.90" y1="372.33" x2="332.40" y2="372.33" stroke="#111" stroke-width="1.2" />
<text x="328.90" y="375.23" font-size="8.1" text-anchor="end" fill="#000" >500</text>
<line x1="329.90" y1="334.07" x2="332.40" y2="334.07" stroke="#111" stroke-width="1.2" />
<text x="328.90" y="336.97" font-size="8.1" text-anchor="end" fill="#000" >1000</text>
<line x1="329.90" y1="295.80" x2="332.40" y2="295.80" stroke="#111" stroke-width="1.2" />
<text x="328.90" y="298.70" font-size="8.1" text-anchor="end" fill="#000" >1500</text>
<line x1="344.60" y1="410.60" x2="344.60" y2="412.80" stroke="#111" stroke-width="1.0" />
<text x="344.60" y="421.20" font-size="8.2" text-anchor="middle" fill="#000" >0</text>
<line x1="355.88" y1="410.60" x2="355.88" y2="412.80" stroke="#111" stroke-width="1.0" />
<text x="355.88" y="421.20" font-size="8.2" text-anchor="middle" fill="#000" >1</text>
<line x1="367.16" y1="410.60" x2="367.16" y2="412.80" stroke="#111" stroke-width="1.0" />
<text x="367.16" y="421.20" font-size="8.2" text-anchor="middle" fill="#000" >2</text>
<line x1="378.44" y1="410.60" x2="378.44" y2="412.80" stroke="#111" stroke-width="1.0" />
<text x="378.44" y="421.20" font-size="8.2" text-anchor="middle" fill="#000" >3</text>
<line x1="389.72" y1="410.60" x2="389.72" y2="412.80" stroke="#111" stroke-width="1.0" />
<text x="389.72" y="421.20" font-size="8.2" text-anchor="middle" fill="#000" >4</text>
<line x1="412.28" y1="410.60" x2="412.28" y2="412.80" stroke="#111" stroke-width="1.0" />
<text x="412.28" y="421.20" font-size="8.2" text-anchor="middle" fill="#000" >6</text>
<line x1="446.12" y1="410.60" x2="446.12" y2="412.80" stroke="#111" stroke-width="1.0" />
<text x="446.12" y="421.20" font-size="8.2" text-anchor="middle" fill="#000" >9</text>
<line x1="479.96" y1="410.60" x2="479.96" y2="412.80" stroke="#111" stroke-width="1.0" />
<text x="479.96" y="421.20" font-size="8.2" text-anchor="middle" fill="#000" >12</text>
<line x1="512.30" y1="410.60" x2="512.30" y2="412.80" stroke="#111" stroke-width="1.0" />
<text x="512.30" y="421.20" font-size="8.2" text-anchor="middle" fill="#000" >24</text>
<text x="0" y="0" font-size="9.6" text-anchor="middle" dominant-baseline="central" transform="translate(302.30,350.00) rotate(-90)">CD8+ cells/ µL</text>
<path d="M344.60,410.60 L355.88,403.25 L367.16,406.47 L378.44,404.40" fill="none" stroke="#22e033" stroke-width="1.5" stroke-dasharray="3,1.5,1,1.5" stroke-linejoin="round"/>
<path d="M341.90,412.76 L347.30,412.76 L344.60,407.90Z" fill="#22e033" stroke="#22e033" stroke-width="1.3"/>
<path d="M353.18,405.41 L358.58,405.41 L355.88,400.55Z" fill="#22e033" stroke="#22e033" stroke-width="1.3"/>
<path d="M364.46,408.63 L369.86,408.63 L367.16,403.77Z" fill="#22e033" stroke="#22e033" stroke-width="1.3"/>
<path d="M375.74,406.56 L381.14,406.56 L378.44,401.70Z" fill="#22e033" stroke="#22e033" stroke-width="1.3"/>
<path d="M344.60,408.69 L355.88,387.64 L367.16,401.80 L378.44,382.67 L389.72,401.42 L412.28,398.97 L446.12,393.53 L479.96,395.75" fill="none" stroke="#6f8fc0" stroke-width="1.7" stroke-dasharray="3.6,2.2" stroke-linejoin="round"/>
<path d="M344.60,405.69 L347.60,408.69 L344.60,411.69 L341.60,408.69Z" fill="#5a92dc"/>
<path d="M355.88,384.64 L358.88,387.64 L355.88,390.64 L352.88,387.64Z" fill="#5a92dc"/>
<path d="M367.16,398.80 L370.16,401.80 L367.16,404.80 L364.16,401.80Z" fill="#5a92dc"/>
<path d="M378.44,379.67 L381.44,382.67 L378.44,385.67 L375.44,382.67Z" fill="#5a92dc"/>
<path d="M389.72,398.42 L392.72,401.42 L389.72,404.42 L386.72,401.42Z" fill="#5a92dc"/>
<path d="M412.28,395.97 L415.28,398.97 L412.28,401.97 L409.28,398.97Z" fill="#5a92dc"/>
<path d="M446.12,390.53 L449.12,393.53 L446.12,396.53 L443.12,393.53Z" fill="#5a92dc"/>
<path d="M479.96,392.75 L482.96,395.75 L479.96,398.75 L476.96,395.75Z" fill="#5a92dc"/>
<path d="M344.60,410.60 L355.88,410.60 L367.16,400.57 L378.44,381.67 L389.72,384.35 L412.28,378.15 L446.12,368.66 L479.96,374.02 L512.30,319.37" fill="none" stroke="#111" stroke-width="1.9"  stroke-linejoin="round"/>
<rect x="353.58" y="408.30" width="4.6" height="4.6" fill="#111"/>
<rect x="365.31" y="398.72" width="3.70" height="3.70" fill="#777" stroke="#111" stroke-width="1.4"/>
<rect x="376.59" y="379.82" width="3.70" height="3.70" fill="#777" stroke="#111" stroke-width="1.4"/>
<rect x="387.87" y="382.50" width="3.70" height="3.70" fill="#777" stroke="#111" stroke-width="1.4"/>
<rect x="410.43" y="376.30" width="3.70" height="3.70" fill="#777" stroke="#111" stroke-width="1.4"/>
<rect x="444.27" y="366.81" width="3.70" height="3.70" fill="#777" stroke="#111" stroke-width="1.4"/>
<rect x="478.11" y="372.17" width="3.70" height="3.70" fill="#777" stroke="#111" stroke-width="1.4"/>
<rect x="510.45" y="317.52" width="3.70" height="3.70" fill="#777" stroke="#111" stroke-width="1.4"/>
<rect x="491.60" y="291.80" width="4.20" height="115.80" fill="#fff"/>
<rect x="492.20" y="349.80" width="4.40" height="4.40" fill="#fff"/>
<line x1="57.20" y1="20.30" x2="66.60" y2="20.30" stroke="#111" stroke-width="1.5" />
<rect x="60.20" y="18.60" width="3.40" height="3.40" fill="#111"/>
<text x="71.80" y="23.10" font-size="7.9" text-anchor="start" fill="#000" >Pt 3</text>
<line x1="57.20" y1="30.05" x2="66.60" y2="30.05" stroke="#8a8a8a" stroke-width="1.5" />
<path d="M61.90,27.25 L64.70,30.05 L61.90,32.85 L59.10,30.05Z" fill="#8a8a8a"/>
<text x="71.80" y="32.85" font-size="7.9" text-anchor="start" fill="#000" >Pt 6</text>
<line x1="57.20" y1="39.80" x2="66.60" y2="39.80" stroke="#111" stroke-width="1.5" />
<path d="M59.00,37.48 L64.80,37.48 L61.90,42.70Z" fill="#fff" stroke="#111" stroke-width="1.3"/>
<text x="71.80" y="42.60" font-size="7.9" text-anchor="start" fill="#000" >Pt 7</text>
<line x1="57.20" y1="49.55" x2="66.60" y2="49.55" stroke="#8a8a8a" stroke-width="1.5" />
<circle cx="61.90" cy="49.55" r="2.70" fill="#bbb" stroke="#999" stroke-width="1"/>
<text x="71.80" y="52.35" font-size="7.9" text-anchor="start" fill="#000" >Pt 8</text>
<line x1="57.20" y1="59.30" x2="66.60" y2="59.30" stroke="#111" stroke-width="1.5" />
<circle cx="61.90" cy="59.30" r="2.50" fill="#111" stroke="#111" stroke-width="1"/>
<text x="71.80" y="62.10" font-size="7.9" text-anchor="start" fill="#000" >Pt 9</text>
<line x1="57.20" y1="69.05" x2="66.60" y2="69.05" stroke="#111" stroke-width="1.5" />
<path d="M59.00,71.37 L64.80,71.37 L61.90,66.15Z" fill="#fff" stroke="#111" stroke-width="1.3"/>
<text x="71.80" y="71.85" font-size="7.9" text-anchor="start" fill="#000" >Pt 10</text>
<line x1="337.20" y1="23.70" x2="345.90" y2="23.70" stroke="#111" stroke-width="1.6" />
<rect x="339.50" y="21.70" width="4.00" height="4.00" fill="#777" stroke="#111" stroke-width="1.4"/>
<text x="351.00" y="26.60" font-size="8.0" text-anchor="start" fill="#000" >Pt 1</text>
<line x1="337.20" y1="33.00" x2="345.90" y2="33.00" stroke="#6f8fc0" stroke-width="1.6" />
<path d="M341.50,30.10 L344.40,33.00 L341.50,35.90 L338.60,33.00Z" fill="#5a92dc"/>
<text x="351.00" y="35.90" font-size="8.0" text-anchor="start" fill="#000" >Pt 2</text>
<line x1="337.20" y1="42.30" x2="345.90" y2="42.30" stroke="#22e033" stroke-width="1.6" />
<path d="M338.40,44.78 L344.60,44.78 L341.50,39.20Z" fill="#22e033" stroke="#22e033" stroke-width="1.3"/>
<text x="351.00" y="45.20" font-size="8.0" text-anchor="start" fill="#000" >Pt 5</text>
<text x="145.20" y="436.40" font-size="9.5" text-anchor="middle" fill="#000" >Month after T-cell infusion</text>
<text x="424.00" y="436.40" font-size="9.5" text-anchor="middle" fill="#000" >Month after T-cell infusion</text>
<line x1="50.90" y1="460.00" x2="50.90" y2="576.10" stroke="#111" stroke-width="1.3" />
<line x1="50.60" y1="575.50" x2="233.00" y2="575.50" stroke="#111" stroke-width="1.4" />
<line x1="48.40" y1="575.50" x2="50.90" y2="575.50" stroke="#111" stroke-width="1.2" />
<text x="47.40" y="578.30" font-size="7.9" text-anchor="end" fill="#000" >0</text>
<line x1="48.40" y1="537.17" x2="50.90" y2="537.17" stroke="#111" stroke-width="1.2" />
<text x="47.40" y="539.97" font-size="7.9" text-anchor="end" fill="#000" >1000</text>
<line x1="48.40" y1="498.83" x2="50.90" y2="498.83" stroke="#111" stroke-width="1.2" />
<text x="47.40" y="501.63" font-size="7.9" text-anchor="end" fill="#000" >2000</text>
<line x1="48.40" y1="460.50" x2="50.90" y2="460.50" stroke="#111" stroke-width="1.2" />
<text x="47.40" y="463.30" font-size="7.9" text-anchor="end" fill="#000" >3000</text>
<text x="0" y="0" font-size="9.3" text-anchor="middle" dominant-baseline="central" transform="translate(17.50,515.00) rotate(-90)">Counts / µL</text>
<line x1="61.00" y1="575.50" x2="61.00" y2="577.70" stroke="#111" stroke-width="1.0" />
<text x="61.00" y="585.40" font-size="8.3" text-anchor="middle" fill="#000" >0</text>
<rect x="53.85" y="573.40" width="14.30" height="2.10" fill="#9cc5f2" stroke="#000" stroke-width="1.1"/>
<rect x="53.85" y="572.40" width="14.30" height="1.00" fill="#c8084f" stroke="#000" stroke-width="1.1"/>
<rect x="53.85" y="571.40" width="14.30" height="1.00" fill="#e391ee" stroke="#000" stroke-width="1.1"/>
<rect x="53.85" y="570.40" width="14.30" height="1.00" fill="#22e83a" stroke="#000" stroke-width="1.1"/>
<rect x="53.85" y="570.40" width="14.30" height="2.20" fill="#111" stroke="#000" stroke-width="1.1"/>
<path d="M61.00,570.40 V570.00 M57.40,570.00 H64.60" stroke="#000" stroke-width="1.3" fill="none"/>
<line x1="81.15" y1="575.50" x2="81.15" y2="577.70" stroke="#111" stroke-width="1.0" />
<text x="81.15" y="585.40" font-size="8.3" text-anchor="middle" fill="#000" >1</text>
<rect x="74.00" y="570.80" width="14.30" height="4.70" fill="#9cc5f2" stroke="#000" stroke-width="1.1"/>
<rect x="74.00" y="566.00" width="14.30" height="4.80" fill="#c8084f" stroke="#000" stroke-width="1.1"/>
<rect x="74.00" y="561.50" width="14.30" height="4.50" fill="#e391ee" stroke="#000" stroke-width="1.1"/>
<rect x="74.00" y="556.00" width="14.30" height="5.50" fill="#22e83a" stroke="#000" stroke-width="1.1"/>
<path d="M81.15,570.80 V568.16 M77.55,569.36 V568.16 H84.75 V569.36" stroke="#000" stroke-width="1.1" fill="none"/>
<path d="M81.15,566.00 V563.52 M77.55,564.73 V563.52 H84.75 V564.73" stroke="#000" stroke-width="1.1" fill="none"/>
<path d="M81.15,561.50 V558.48 M77.55,559.68 V558.48 H84.75 V559.68" stroke="#000" stroke-width="1.1" fill="none"/>
<path d="M81.15,556.00 V552.60 M77.55,552.60 H84.75" stroke="#000" stroke-width="1.3" fill="none"/>
<line x1="101.30" y1="575.50" x2="101.30" y2="577.70" stroke="#111" stroke-width="1.0" />
<text x="101.30" y="585.40" font-size="8.3" text-anchor="middle" fill="#000" >2</text>
<rect x="94.15" y="570.00" width="14.30" height="5.50" fill="#9cc5f2" stroke="#000" stroke-width="1.1"/>
<rect x="94.15" y="563.80" width="14.30" height="6.20" fill="#c8084f" stroke="#000" stroke-width="1.1"/>
<rect x="94.15" y="561.00" width="14.30" height="2.80" fill="#e391ee" stroke="#000" stroke-width="1.1"/>
<rect x="94.15" y="558.40" width="14.30" height="2.60" fill="#22e83a" stroke="#000" stroke-width="1.1"/>
<path d="M101.30,570.00 V566.59 M97.70,567.79 V566.59 H104.90 V567.79" stroke="#000" stroke-width="1.1" fill="none"/>
<rect x="94.15" y="558.40" width="14.30" height="2.40" fill="#111" stroke="#000" stroke-width="1.1"/>
<path d="M101.30,558.40 V556.60 M97.70,556.60 H104.90" stroke="#000" stroke-width="1.3" fill="none"/>
<line x1="121.45" y1="575.50" x2="121.45" y2="577.70" stroke="#111" stroke-width="1.0" />
<text x="121.45" y="585.40" font-size="8.3" text-anchor="middle" fill="#000" >3</text>
<rect x="114.30" y="563.30" width="14.30" height="12.20" fill="#9cc5f2" stroke="#000" stroke-width="1.1"/>
<rect x="114.30" y="555.00" width="14.30" height="8.30" fill="#c8084f" stroke="#000" stroke-width="1.1"/>
<rect x="114.30" y="550.80" width="14.30" height="4.20" fill="#e391ee" stroke="#000" stroke-width="1.1"/>
<rect x="114.30" y="546.30" width="14.30" height="4.50" fill="#22e83a" stroke="#000" stroke-width="1.1"/>
<path d="M121.45,563.30 V558.74 M117.85,559.94 V558.74 H125.05 V559.94" stroke="#000" stroke-width="1.1" fill="none"/>
<path d="M121.45,555.00 V552.69 M117.85,553.89 V552.69 H125.05 V553.89" stroke="#000" stroke-width="1.1" fill="none"/>
<path d="M121.45,550.80 V548.32 M117.85,549.52 V548.32 H125.05 V549.52" stroke="#000" stroke-width="1.1" fill="none"/>
<path d="M121.45,546.30 V544.20 M117.85,544.20 H125.05" stroke="#000" stroke-width="1.3" fill="none"/>
<line x1="141.60" y1="575.50" x2="141.60" y2="577.70" stroke="#111" stroke-width="1.0" />
<text x="141.60" y="585.40" font-size="8.3" text-anchor="middle" fill="#000" >4</text>
<rect x="134.45" y="560.80" width="14.30" height="14.70" fill="#9cc5f2" stroke="#000" stroke-width="1.1"/>
<rect x="134.45" y="550.00" width="14.30" height="10.80" fill="#c8084f" stroke="#000" stroke-width="1.1"/>
<rect x="134.45" y="540.00" width="14.30" height="10.00" fill="#e391ee" stroke="#000" stroke-width="1.1"/>
<rect x="134.45" y="536.30" width="14.30" height="3.70" fill="#22e83a" stroke="#000" stroke-width="1.1"/>
<path d="M141.60,560.80 V555.30 M138.00,556.50 V555.30 H145.20 V556.50" stroke="#000" stroke-width="1.1" fill="none"/>
<path d="M141.60,550.00 V544.50 M138.00,545.70 V544.50 H145.20 V545.70" stroke="#000" stroke-width="1.1" fill="none"/>
<path d="M141.60,536.30 V533.30 M138.00,533.30 H145.20" stroke="#000" stroke-width="1.3" fill="none"/>
<line x1="161.75" y1="575.50" x2="161.75" y2="577.70" stroke="#111" stroke-width="1.0" />
<text x="161.75" y="585.40" font-size="8.3" text-anchor="middle" fill="#000" >6</text>
<rect x="154.60" y="551.30" width="14.30" height="24.20" fill="#9cc5f2" stroke="#000" stroke-width="1.1"/>
<rect x="154.60" y="540.80" width="14.30" height="10.50" fill="#c8084f" stroke="#000" stroke-width="1.1"/>
<rect x="154.60" y="533.30" width="14.30" height="7.50" fill="#e391ee" stroke="#000" stroke-width="1.1"/>
<rect x="154.60" y="528.80" width="14.30" height="4.50" fill="#22e83a" stroke="#000" stroke-width="1.1"/>
<path d="M161.75,551.30 V545.80 M158.15,547.00 V545.80 H165.35 V547.00" stroke="#000" stroke-width="1.1" fill="none"/>
<path d="M161.75,540.80 V536.67 M158.15,537.88 V536.67 H165.35 V537.88" stroke="#000" stroke-width="1.1" fill="none"/>
<path d="M161.75,533.30 V530.82 M158.15,532.02 V530.82 H165.35 V532.02" stroke="#000" stroke-width="1.1" fill="none"/>
<path d="M161.75,528.80 V526.50 M158.15,526.50 H165.35" stroke="#000" stroke-width="1.3" fill="none"/>
<line x1="181.90" y1="575.50" x2="181.90" y2="577.70" stroke="#111" stroke-width="1.0" />
<text x="181.90" y="585.40" font-size="8.3" text-anchor="middle" fill="#000" >9</text>
<rect x="174.75" y="553.80" width="14.30" height="21.70" fill="#9cc5f2" stroke="#000" stroke-width="1.1"/>
<rect x="174.75" y="545.50" width="14.30" height="8.30" fill="#c8084f" stroke="#000" stroke-width="1.1"/>
<rect x="174.75" y="538.00" width="14.30" height="7.50" fill="#e391ee" stroke="#000" stroke-width="1.1"/>
<rect x="174.75" y="533.30" width="14.30" height="4.70" fill="#22e83a" stroke="#000" stroke-width="1.1"/>
<path d="M181.90,553.80 V549.24 M178.30,550.44 V549.24 H185.50 V550.44" stroke="#000" stroke-width="1.1" fill="none"/>
<path d="M181.90,545.50 V541.38 M178.30,542.58 V541.38 H185.50 V542.58" stroke="#000" stroke-width="1.1" fill="none"/>
<path d="M181.90,538.00 V535.41 M178.30,536.62 V535.41 H185.50 V536.62" stroke="#000" stroke-width="1.1" fill="none"/>
<path d="M181.90,533.30 V531.00 M178.30,531.00 H185.50" stroke="#000" stroke-width="1.3" fill="none"/>
<line x1="202.05" y1="575.50" x2="202.05" y2="577.70" stroke="#111" stroke-width="1.0" />
<text x="202.05" y="585.40" font-size="8.3" text-anchor="middle" fill="#000" >12</text>
<rect x="194.90" y="544.80" width="14.30" height="30.70" fill="#9cc5f2" stroke="#000" stroke-width="1.1"/>
<rect x="194.90" y="530.90" width="14.30" height="13.90" fill="#c8084f" stroke="#000" stroke-width="1.1"/>
<rect x="194.90" y="518.80" width="14.30" height="12.10" fill="#e391ee" stroke="#000" stroke-width="1.1"/>
<rect x="194.90" y="510.30" width="14.30" height="8.50" fill="#22e83a" stroke="#000" stroke-width="1.1"/>
<path d="M202.05,544.80 V539.30 M198.45,540.50 V539.30 H205.65 V540.50" stroke="#000" stroke-width="1.1" fill="none"/>
<path d="M202.05,530.90 V525.40 M198.45,526.60 V525.40 H205.65 V526.60" stroke="#000" stroke-width="1.1" fill="none"/>
<path d="M202.05,518.80 V514.12 M198.45,515.33 V514.12 H205.65 V515.33" stroke="#000" stroke-width="1.1" fill="none"/>
<path d="M202.05,510.30 V508.20 M198.45,508.20 H205.65" stroke="#000" stroke-width="1.3" fill="none"/>
<line x1="222.20" y1="575.50" x2="222.20" y2="577.70" stroke="#111" stroke-width="1.0" />
<text x="222.20" y="585.40" font-size="8.3" text-anchor="middle" fill="#000" >24</text>
<rect x="215.05" y="544.20" width="14.30" height="31.30" fill="#9cc5f2" stroke="#000" stroke-width="1.1"/>
<rect x="215.05" y="530.90" width="14.30" height="13.30" fill="#c8084f" stroke="#000" stroke-width="1.1"/>
<rect x="215.05" y="518.80" width="14.30" height="12.10" fill="#e391ee" stroke="#000" stroke-width="1.1"/>
<rect x="215.05" y="497.90" width="14.30" height="20.90" fill="#22e83a" stroke="#000" stroke-width="1.1"/>
<path d="M222.20,544.20 V538.70 M218.60,539.90 V538.70 H225.80 V539.90" stroke="#000" stroke-width="1.1" fill="none"/>
<path d="M222.20,530.90 V525.40 M218.60,526.60 V525.40 H225.80 V526.60" stroke="#000" stroke-width="1.1" fill="none"/>
<path d="M222.20,518.80 V513.30 M218.60,514.50 V513.30 H225.80 V514.50" stroke="#000" stroke-width="1.1" fill="none"/>
<path d="M222.20,497.90 V487.50 M218.60,487.50 H225.80" stroke="#000" stroke-width="1.3" fill="none"/>
<rect x="54.60" y="459.80" width="8.8" height="5.6" fill="#22e83a" stroke="#000" stroke-width="1.1"/>
<text x="67.60" y="465.20" font-size="7.3" text-anchor="start" fill="#000" >TEMRA (CD45RA+/CD62L-)</text>
<rect x="54.60" y="469.05" width="8.8" height="5.6" fill="#e391ee" stroke="#000" stroke-width="1.1"/>
<text x="67.60" y="474.45" font-size="7.3" text-anchor="start" fill="#000" >EM (CD45RA-/CD62L-)</text>
<rect x="54.60" y="478.30" width="8.8" height="5.6" fill="#c8084f" stroke="#000" stroke-width="1.1"/>
<text x="67.60" y="483.70" font-size="7.3" text-anchor="start" fill="#000" >CM (CD45RA-/CD62L+)</text>
<rect x="54.60" y="487.55" width="8.8" height="5.6" fill="#9cc5f2" stroke="#000" stroke-width="1.1"/>
<text x="67.60" y="492.95" font-size="7.3" text-anchor="start" fill="#000" >Naive (CD45RA+/CD62L+)</text>
<text x="152.10" y="600.80" font-size="9.5" text-anchor="middle" fill="#000" >Month after T-cell infusion</text>
<line x1="331.60" y1="461.10" x2="331.60" y2="575.90" stroke="#111" stroke-width="1.3" />
<line x1="331.30" y1="575.30" x2="515.00" y2="575.30" stroke="#111" stroke-width="1.4" />
<line x1="329.10" y1="575.30" x2="331.60" y2="575.30" stroke="#111" stroke-width="1.2" />
<text x="328.10" y="578.10" font-size="7.9" text-anchor="end" fill="#000" >0</text>
<line x1="329.10" y1="537.40" x2="331.60" y2="537.40" stroke="#111" stroke-width="1.2" />
<text x="328.10" y="540.20" font-size="7.9" text-anchor="end" fill="#000" >1000</text>
<line x1="329.10" y1="499.50" x2="331.60" y2="499.50" stroke="#111" stroke-width="1.2" />
<text x="328.10" y="502.30" font-size="7.9" text-anchor="end" fill="#000" >2000</text>
<line x1="329.10" y1="461.60" x2="331.60" y2="461.60" stroke="#111" stroke-width="1.2" />
<text x="328.10" y="464.40" font-size="7.9" text-anchor="end" fill="#000" >3000</text>
<text x="0" y="0" font-size="9.3" text-anchor="middle" dominant-baseline="central" transform="translate(300.00,519.00) rotate(-90)">Counts / µL</text>
<line x1="342.30" y1="575.30" x2="342.30" y2="577.50" stroke="#111" stroke-width="1.0" />
<text x="342.30" y="585.20" font-size="8.3" text-anchor="middle" fill="#000" >0</text>
<rect x="335.15" y="574.60" width="14.30" height="0.70" fill="#9cc5f2" stroke="#000" stroke-width="1.1"/>
<rect x="335.15" y="574.40" width="14.30" height="0.20" fill="#c8084f" stroke="#000" stroke-width="1.1"/>
<rect x="335.15" y="574.20" width="14.30" height="0.20" fill="#e391ee" stroke="#000" stroke-width="1.1"/>
<rect x="335.15" y="574.00" width="14.30" height="0.20" fill="#22e83a" stroke="#000" stroke-width="1.1"/>
<line x1="362.55" y1="575.30" x2="362.55" y2="577.50" stroke="#111" stroke-width="1.0" />
<text x="362.55" y="585.20" font-size="8.3" text-anchor="middle" fill="#000" >1</text>
<rect x="355.40" y="574.00" width="14.30" height="1.30" fill="#9cc5f2" stroke="#000" stroke-width="1.1"/>
<rect x="355.40" y="570.20" width="14.30" height="3.80" fill="#c8084f" stroke="#000" stroke-width="1.1"/>
<rect x="355.40" y="568.00" width="14.30" height="2.20" fill="#e391ee" stroke="#000" stroke-width="1.1"/>
<rect x="355.40" y="566.00" width="14.30" height="2.00" fill="#22e83a" stroke="#000" stroke-width="1.1"/>
<rect x="355.40" y="566.00" width="14.30" height="2.00" fill="#111" stroke="#000" stroke-width="1.1"/>
<path d="M362.55,566.00 V565.00 M358.95,565.00 H366.15" stroke="#000" stroke-width="1.3" fill="none"/>
<line x1="382.80" y1="575.30" x2="382.80" y2="577.50" stroke="#111" stroke-width="1.0" />
<text x="382.80" y="585.20" font-size="8.3" text-anchor="middle" fill="#000" >2</text>
<rect x="375.65" y="574.20" width="14.30" height="1.10" fill="#9cc5f2" stroke="#000" stroke-width="1.1"/>
<rect x="375.65" y="571.00" width="14.30" height="3.20" fill="#c8084f" stroke="#000" stroke-width="1.1"/>
<rect x="375.65" y="569.00" width="14.30" height="2.00" fill="#e391ee" stroke="#000" stroke-width="1.1"/>
<rect x="375.65" y="567.00" width="14.30" height="2.00" fill="#22e83a" stroke="#000" stroke-width="1.1"/>
<rect x="375.65" y="567.00" width="14.30" height="2.00" fill="#111" stroke="#000" stroke-width="1.1"/>
<path d="M382.80,567.00 V566.00 M379.20,566.00 H386.40" stroke="#000" stroke-width="1.3" fill="none"/>
<line x1="403.05" y1="575.30" x2="403.05" y2="577.50" stroke="#111" stroke-width="1.0" />
<text x="403.05" y="585.20" font-size="8.3" text-anchor="middle" fill="#000" >3</text>
<rect x="395.90" y="573.00" width="14.30" height="2.30" fill="#9cc5f2" stroke="#000" stroke-width="1.1"/>
<rect x="395.90" y="563.50" width="14.30" height="9.50" fill="#c8084f" stroke="#000" stroke-width="1.1"/>
<rect x="395.90" y="561.00" width="14.30" height="2.50" fill="#e391ee" stroke="#000" stroke-width="1.1"/>
<rect x="395.90" y="557.10" width="14.30" height="3.90" fill="#22e83a" stroke="#000" stroke-width="1.1"/>
<path d="M403.05,573.00 V567.77 M399.45,568.98 V567.77 H406.65 V568.98" stroke="#000" stroke-width="1.1" fill="none"/>
<rect x="395.90" y="557.10" width="14.30" height="3.60" fill="#111" stroke="#000" stroke-width="1.1"/>
<path d="M403.05,557.10 V556.20 M399.45,556.20 H406.65" stroke="#000" stroke-width="1.3" fill="none"/>
<line x1="423.30" y1="575.30" x2="423.30" y2="577.50" stroke="#111" stroke-width="1.0" />
<text x="423.30" y="585.20" font-size="8.3" text-anchor="middle" fill="#000" >4</text>
<rect x="416.15" y="573.30" width="14.30" height="2.00" fill="#9cc5f2" stroke="#000" stroke-width="1.1"/>
<rect x="416.15" y="565.30" width="14.30" height="8.00" fill="#c8084f" stroke="#000" stroke-width="1.1"/>
<rect x="416.15" y="557.90" width="14.30" height="7.40" fill="#e391ee" stroke="#000" stroke-width="1.1"/>
<rect x="416.15" y="551.10" width="14.30" height="6.80" fill="#22e83a" stroke="#000" stroke-width="1.1"/>
<path d="M423.30,573.30 V568.90 M419.70,570.10 V568.90 H426.90 V570.10" stroke="#000" stroke-width="1.1" fill="none"/>
<path d="M423.30,565.30 V561.23 M419.70,562.43 V561.23 H426.90 V562.43" stroke="#000" stroke-width="1.1" fill="none"/>
<path d="M423.30,557.90 V554.16 M419.70,555.36 V554.16 H426.90 V555.36" stroke="#000" stroke-width="1.1" fill="none"/>
<path d="M423.30,551.10 V547.30 M419.70,547.30 H426.90" stroke="#000" stroke-width="1.3" fill="none"/>
<line x1="443.55" y1="575.30" x2="443.55" y2="577.50" stroke="#111" stroke-width="1.0" />
<text x="443.55" y="585.20" font-size="8.3" text-anchor="middle" fill="#000" >6</text>
<rect x="436.40" y="570.60" width="14.30" height="4.70" fill="#9cc5f2" stroke="#000" stroke-width="1.1"/>
<rect x="436.40" y="561.00" width="14.30" height="9.60" fill="#c8084f" stroke="#000" stroke-width="1.1"/>
<rect x="436.40" y="553.70" width="14.30" height="7.30" fill="#e391ee" stroke="#000" stroke-width="1.1"/>
<rect x="436.40" y="546.30" width="14.30" height="7.40" fill="#22e83a" stroke="#000" stroke-width="1.1"/>
<path d="M443.55,570.60 V565.32 M439.95,566.52 V565.32 H447.15 V566.52" stroke="#000" stroke-width="1.1" fill="none"/>
<path d="M443.55,561.00 V556.99 M439.95,558.19 V556.99 H447.15 V558.19" stroke="#000" stroke-width="1.1" fill="none"/>
<path d="M443.55,553.70 V549.63 M439.95,550.83 V549.63 H447.15 V550.83" stroke="#000" stroke-width="1.1" fill="none"/>
<path d="M443.55,546.30 V542.00 M439.95,542.00 H447.15" stroke="#000" stroke-width="1.3" fill="none"/>
<line x1="463.80" y1="575.30" x2="463.80" y2="577.50" stroke="#111" stroke-width="1.0" />
<text x="463.80" y="585.20" font-size="8.3" text-anchor="middle" fill="#000" >9</text>
<rect x="456.65" y="563.60" width="14.30" height="11.70" fill="#9cc5f2" stroke="#000" stroke-width="1.1"/>
<rect x="456.65" y="552.60" width="14.30" height="11.00" fill="#c8084f" stroke="#000" stroke-width="1.1"/>
<rect x="456.65" y="543.00" width="14.30" height="9.60" fill="#e391ee" stroke="#000" stroke-width="1.1"/>
<rect x="456.65" y="533.10" width="14.30" height="9.90" fill="#22e83a" stroke="#000" stroke-width="1.1"/>
<path d="M463.80,563.60 V558.10 M460.20,559.30 V558.10 H467.40 V559.30" stroke="#000" stroke-width="1.1" fill="none"/>
<path d="M463.80,552.60 V547.32 M460.20,548.52 V547.32 H467.40 V548.52" stroke="#000" stroke-width="1.1" fill="none"/>
<path d="M463.80,543.00 V537.56 M460.20,538.76 V537.56 H467.40 V538.76" stroke="#000" stroke-width="1.1" fill="none"/>
<path d="M463.80,533.10 V527.20 M460.20,527.20 H467.40" stroke="#000" stroke-width="1.3" fill="none"/>
<line x1="484.05" y1="575.30" x2="484.05" y2="577.50" stroke="#111" stroke-width="1.0" />
<text x="484.05" y="585.20" font-size="8.3" text-anchor="middle" fill="#000" >12</text>
<rect x="476.90" y="566.40" width="14.30" height="8.90" fill="#9cc5f2" stroke="#000" stroke-width="1.1"/>
<rect x="476.90" y="558.50" width="14.30" height="7.90" fill="#c8084f" stroke="#000" stroke-width="1.1"/>
<rect x="476.90" y="551.10" width="14.30" height="7.40" fill="#e391ee" stroke="#000" stroke-width="1.1"/>
<rect x="476.90" y="542.40" width="14.30" height="8.70" fill="#22e83a" stroke="#000" stroke-width="1.1"/>
<path d="M484.05,566.40 V562.05 M480.45,563.25 V562.05 H487.65 V563.25" stroke="#000" stroke-width="1.1" fill="none"/>
<path d="M484.05,558.50 V554.43 M480.45,555.63 V554.43 H487.65 V555.63" stroke="#000" stroke-width="1.1" fill="none"/>
<path d="M484.05,551.10 V546.32 M480.45,547.52 V546.32 H487.65 V547.52" stroke="#000" stroke-width="1.1" fill="none"/>
<path d="M484.05,542.40 V538.40 M480.45,538.40 H487.65" stroke="#000" stroke-width="1.3" fill="none"/>
<line x1="504.30" y1="575.30" x2="504.30" y2="577.50" stroke="#111" stroke-width="1.0" />
<text x="504.30" y="585.20" font-size="8.3" text-anchor="middle" fill="#000" >24</text>
<rect x="497.15" y="534.20" width="14.30" height="41.10" fill="#9cc5f2" stroke="#000" stroke-width="1.1"/>
<rect x="497.15" y="512.00" width="14.30" height="22.20" fill="#c8084f" stroke="#000" stroke-width="1.1"/>
<rect x="497.15" y="492.70" width="14.30" height="19.30" fill="#e391ee" stroke="#000" stroke-width="1.1"/>
<rect x="497.15" y="464.40" width="14.30" height="28.30" fill="#22e83a" stroke="#000" stroke-width="1.1"/>
<rect x="336.30" y="461.40" width="8.8" height="5.6" fill="#22e83a" stroke="#000" stroke-width="1.1"/>
<text x="349.30" y="466.80" font-size="7.3" text-anchor="start" fill="#000" >TEMRA (CD45RA+/CD62L-)</text>
<rect x="336.30" y="470.70" width="8.8" height="5.6" fill="#e391ee" stroke="#000" stroke-width="1.1"/>
<text x="349.30" y="476.10" font-size="7.3" text-anchor="start" fill="#000" >EM (CD45RA-/CD62L-)</text>
<rect x="336.30" y="480.00" width="8.8" height="5.6" fill="#c8084f" stroke="#000" stroke-width="1.1"/>
<text x="349.30" y="485.40" font-size="7.3" text-anchor="start" fill="#000" >CM (CD45RA-/CD62L+)</text>
<rect x="336.30" y="489.30" width="8.8" height="5.6" fill="#9cc5f2" stroke="#000" stroke-width="1.1"/>
<text x="349.30" y="494.70" font-size="7.3" text-anchor="start" fill="#000" >Naive (CD45RA+/CD62L+)</text>
<text x="433.60" y="602.00" font-size="9.5" text-anchor="middle" fill="#000" >Month after T-cell infusion</text>
<text x="503.30" y="462.60" font-size="11" text-anchor="middle" fill="#000" >*</text>
<line x1="106.50" y1="618.90" x2="106.50" y2="700.20" stroke="#111" stroke-width="1.1" />
<line x1="106.20" y1="699.60" x2="389.00" y2="699.60" stroke="#111" stroke-width="1.2" />
<line x1="104.30" y1="699.60" x2="106.50" y2="699.60" stroke="#111" stroke-width="1.0" />
<text x="0" y="0" font-size="6.5" text-anchor="end" transform="translate(104.50,701.90) scale(1.3,1)">0</text>
<line x1="104.30" y1="679.55" x2="106.50" y2="679.55" stroke="#111" stroke-width="1.0" />
<text x="0" y="0" font-size="6.5" text-anchor="end" transform="translate(104.50,681.85) scale(1.3,1)">5</text>
<line x1="104.30" y1="659.50" x2="106.50" y2="659.50" stroke="#111" stroke-width="1.0" />
<text x="0" y="0" font-size="6.5" text-anchor="end" transform="translate(104.50,661.80) scale(1.3,1)">10</text>
<line x1="104.30" y1="639.45" x2="106.50" y2="639.45" stroke="#111" stroke-width="1.0" />
<text x="0" y="0" font-size="6.5" text-anchor="end" transform="translate(104.50,641.75) scale(1.3,1)">15</text>
<line x1="104.30" y1="619.40" x2="106.50" y2="619.40" stroke="#111" stroke-width="1.0" />
<text x="0" y="0" font-size="6.5" text-anchor="end" transform="translate(104.50,621.70) scale(1.3,1)">20</text>
<path d="M110.90,687.37 V685.57 M109.30,685.57 H112.50" stroke="#111" stroke-width="0.95" fill="none"/>
<path d="M115.00,687.97 V686.37 M113.40,686.37 H116.60" stroke="#111" stroke-width="0.95" fill="none"/>
<rect x="108.90" y="687.37" width="4.00" height="12.23" fill="#000"/>
<rect x="112.90" y="687.97" width="4.20" height="11.63" fill="url(#hatch)" stroke="#000" stroke-width="0.9"/>
<line x1="113.00" y1="699.60" x2="113.00" y2="701.60" stroke="#111" stroke-width="0.9" />
<text x="0" y="0" font-size="6.8" text-anchor="end" transform="translate(115.50,707.60) rotate(-45)">1.0</text>
<path d="M122.71,651.08 V628.02 M121.11,628.02 H124.31" stroke="#111" stroke-width="0.95" fill="none"/>
<path d="M126.81,671.93 V668.32 M125.21,668.32 H128.41" stroke="#111" stroke-width="0.95" fill="none"/>
<rect x="120.71" y="651.08" width="4.00" height="48.52" fill="#000"/>
<rect x="124.71" y="671.93" width="4.20" height="27.67" fill="url(#hatch)" stroke="#000" stroke-width="0.9"/>
<line x1="124.81" y1="699.60" x2="124.81" y2="701.60" stroke="#111" stroke-width="0.9" />
<text x="0" y="0" font-size="6.8" text-anchor="end" transform="translate(127.31,707.60) rotate(-45)">2.0</text>
<path d="M134.52,677.54 V666.32 M132.92,666.32 H136.12" stroke="#111" stroke-width="0.95" fill="none"/>
<path d="M138.62,687.97 V682.76 M137.02,682.76 H140.22" stroke="#111" stroke-width="0.95" fill="none"/>
<rect x="132.52" y="677.54" width="4.00" height="22.06" fill="#000"/>
<rect x="136.52" y="687.97" width="4.20" height="11.63" fill="url(#hatch)" stroke="#000" stroke-width="0.9"/>
<line x1="136.62" y1="699.60" x2="136.62" y2="701.60" stroke="#111" stroke-width="0.9" />
<text x="0" y="0" font-size="6.8" text-anchor="end" transform="translate(139.12,707.60) rotate(-45)">3.0</text>
<path d="M146.33,690.78 V688.77 M144.73,688.77 H147.93" stroke="#111" stroke-width="0.95" fill="none"/>
<path d="M150.43,690.78 V689.98 M148.83,689.98 H152.03" stroke="#111" stroke-width="0.95" fill="none"/>
<rect x="144.33" y="690.78" width="4.00" height="8.82" fill="#000"/>
<rect x="148.33" y="690.78" width="4.20" height="8.82" fill="url(#hatch)" stroke="#000" stroke-width="0.9"/>
<line x1="148.43" y1="699.60" x2="148.43" y2="701.60" stroke="#111" stroke-width="0.9" />
<text x="0" y="0" font-size="6.8" text-anchor="end" transform="translate(150.93,707.60) rotate(-45)">4.0</text>
<path d="M158.14,687.37 V685.16 M156.54,685.16 H159.74" stroke="#111" stroke-width="0.95" fill="none"/>
<path d="M162.24,683.16 V680.35 M160.64,680.35 H163.84" stroke="#111" stroke-width="0.95" fill="none"/>
<rect x="156.14" y="687.37" width="4.00" height="12.23" fill="#000"/>
<rect x="160.14" y="683.16" width="4.20" height="16.44" fill="url(#hatch)" stroke="#000" stroke-width="0.9"/>
<line x1="160.24" y1="699.60" x2="160.24" y2="701.60" stroke="#111" stroke-width="0.9" />
<text x="0" y="0" font-size="6.8" text-anchor="end" transform="translate(162.74,707.60) rotate(-45)">5.1</text>
<path d="M169.95,689.58 V687.97 M168.35,687.97 H171.55" stroke="#111" stroke-width="0.95" fill="none"/>
<path d="M174.05,684.76 V673.94 M172.45,673.94 H175.65" stroke="#111" stroke-width="0.95" fill="none"/>
<rect x="167.95" y="689.58" width="4.00" height="10.02" fill="#000"/>
<rect x="171.95" y="684.76" width="4.20" height="14.84" fill="url(#hatch)" stroke="#000" stroke-width="0.9"/>
<line x1="172.05" y1="699.60" x2="172.05" y2="701.60" stroke="#111" stroke-width="0.9" />
<text x="0" y="0" font-size="6.8" text-anchor="end" transform="translate(174.55,707.60) rotate(-45)">5.2</text>
<path d="M181.76,693.99 V691.98 M180.16,691.98 H183.36" stroke="#111" stroke-width="0.95" fill="none"/>
<path d="M185.86,695.59 V695.19 M184.26,695.19 H187.46" stroke="#111" stroke-width="0.95" fill="none"/>
<rect x="179.76" y="693.99" width="4.00" height="5.61" fill="#000"/>
<rect x="183.76" y="695.59" width="4.20" height="4.01" fill="url(#hatch)" stroke="#000" stroke-width="0.9"/>
<line x1="183.86" y1="699.60" x2="183.86" y2="701.60" stroke="#111" stroke-width="0.9" />
<text x="0" y="0" font-size="6.8" text-anchor="end" transform="translate(186.36,707.60) rotate(-45)">5.3</text>
<path d="M193.57,683.16 V678.55 M191.97,678.55 H195.17" stroke="#111" stroke-width="0.95" fill="none"/>
<path d="M197.67,687.17 V685.57 M196.07,685.57 H199.27" stroke="#111" stroke-width="0.95" fill="none"/>
<rect x="191.57" y="683.16" width="4.00" height="16.44" fill="#000"/>
<rect x="195.57" y="687.17" width="4.20" height="12.43" fill="url(#hatch)" stroke="#000" stroke-width="0.9"/>
<line x1="195.67" y1="699.60" x2="195.67" y2="701.60" stroke="#111" stroke-width="0.9" />
<text x="0" y="0" font-size="6.8" text-anchor="end" transform="translate(198.17,707.60) rotate(-45)">7.1</text>
<path d="M205.38,691.98 V690.38 M203.78,690.38 H206.98" stroke="#111" stroke-width="0.95" fill="none"/>
<path d="M209.48,689.17 V685.97 M207.88,685.97 H211.08" stroke="#111" stroke-width="0.95" fill="none"/>
<rect x="203.38" y="691.98" width="4.00" height="7.62" fill="#000"/>
<rect x="207.38" y="689.17" width="4.20" height="10.43" fill="url(#hatch)" stroke="#000" stroke-width="0.9"/>
<line x1="207.48" y1="699.60" x2="207.48" y2="701.60" stroke="#111" stroke-width="0.9" />
<text x="0" y="0" font-size="6.8" text-anchor="end" transform="translate(209.98,707.60) rotate(-45)">7.2</text>
<path d="M217.19,659.10 V647.87 M215.59,647.87 H218.79" stroke="#111" stroke-width="0.95" fill="none"/>
<path d="M221.29,682.56 V677.54 M219.69,677.54 H222.89" stroke="#111" stroke-width="0.95" fill="none"/>
<rect x="215.19" y="659.10" width="4.00" height="40.50" fill="#000"/>
<rect x="219.19" y="682.56" width="4.20" height="17.04" fill="url(#hatch)" stroke="#000" stroke-width="0.9"/>
<line x1="219.29" y1="699.60" x2="219.29" y2="701.60" stroke="#111" stroke-width="0.9" />
<text x="0" y="0" font-size="6.8" text-anchor="end" transform="translate(221.79,707.60) rotate(-45)">8.0</text>
<path d="M229.00,694.19 V693.59 M227.40,693.59 H230.60" stroke="#111" stroke-width="0.95" fill="none"/>
<path d="M233.10,695.59 V694.79 M231.50,694.79 H234.70" stroke="#111" stroke-width="0.95" fill="none"/>
<rect x="227.00" y="694.19" width="4.00" height="5.41" fill="#000"/>
<rect x="231.00" y="695.59" width="4.20" height="4.01" fill="url(#hatch)" stroke="#000" stroke-width="0.9"/>
<line x1="231.10" y1="699.60" x2="231.10" y2="701.60" stroke="#111" stroke-width="0.9" />
<text x="0" y="0" font-size="6.8" text-anchor="end" transform="translate(233.60,707.60) rotate(-45)">9.0</text>
<path d="M240.81,695.99 V695.19 M239.21,695.19 H242.41" stroke="#111" stroke-width="0.95" fill="none"/>
<path d="M244.91,695.59 V693.99 M243.31,693.99 H246.51" stroke="#111" stroke-width="0.95" fill="none"/>
<rect x="238.81" y="695.99" width="4.00" height="3.61" fill="#000"/>
<rect x="242.81" y="695.59" width="4.20" height="4.01" fill="url(#hatch)" stroke="#000" stroke-width="0.9"/>
<line x1="242.91" y1="699.60" x2="242.91" y2="701.60" stroke="#111" stroke-width="0.9" />
<text x="0" y="0" font-size="6.8" text-anchor="end" transform="translate(245.41,707.60) rotate(-45)">11.0</text>
<path d="M252.62,687.57 V683.16 M251.02,683.16 H254.22" stroke="#111" stroke-width="0.95" fill="none"/>
<path d="M256.72,691.58 V690.38 M255.12,690.38 H258.32" stroke="#111" stroke-width="0.95" fill="none"/>
<rect x="250.62" y="687.57" width="4.00" height="12.03" fill="#000"/>
<rect x="254.62" y="691.58" width="4.20" height="8.02" fill="url(#hatch)" stroke="#000" stroke-width="0.9"/>
<line x1="254.72" y1="699.60" x2="254.72" y2="701.60" stroke="#111" stroke-width="0.9" />
<text x="0" y="0" font-size="6.8" text-anchor="end" transform="translate(257.22,707.60) rotate(-45)">12.0</text>
<path d="M264.43,690.78 V689.17 M262.83,689.17 H266.03" stroke="#111" stroke-width="0.95" fill="none"/>
<path d="M268.53,679.95 V673.53 M266.93,673.53 H270.13" stroke="#111" stroke-width="0.95" fill="none"/>
<rect x="262.43" y="690.78" width="4.00" height="8.82" fill="#000"/>
<rect x="266.43" y="679.95" width="4.20" height="19.65" fill="url(#hatch)" stroke="#000" stroke-width="0.9"/>
<line x1="266.53" y1="699.60" x2="266.53" y2="701.60" stroke="#111" stroke-width="0.9" />
<text x="0" y="0" font-size="6.8" text-anchor="end" transform="translate(269.03,707.60) rotate(-45)">13.1</text>
<path d="M276.24,676.74 V665.11 M274.64,665.11 H277.84" stroke="#111" stroke-width="0.95" fill="none"/>
<path d="M280.34,687.37 V685.16 M278.74,685.16 H281.94" stroke="#111" stroke-width="0.95" fill="none"/>
<rect x="274.24" y="676.74" width="4.00" height="22.86" fill="#000"/>
<rect x="278.24" y="687.37" width="4.20" height="12.23" fill="url(#hatch)" stroke="#000" stroke-width="0.9"/>
<line x1="278.34" y1="699.60" x2="278.34" y2="701.60" stroke="#111" stroke-width="0.9" />
<text x="0" y="0" font-size="6.8" text-anchor="end" transform="translate(280.84,707.60) rotate(-45)">13.2</text>
<path d="M288.05,691.18 V688.37 M286.45,688.37 H289.65" stroke="#111" stroke-width="0.95" fill="none"/>
<path d="M292.15,685.57 V681.15 M290.55,681.15 H293.75" stroke="#111" stroke-width="0.95" fill="none"/>
<rect x="286.05" y="691.18" width="4.00" height="8.42" fill="#000"/>
<rect x="290.05" y="685.57" width="4.20" height="14.03" fill="url(#hatch)" stroke="#000" stroke-width="0.9"/>
<line x1="290.15" y1="699.60" x2="290.15" y2="701.60" stroke="#111" stroke-width="0.9" />
<text x="0" y="0" font-size="6.8" text-anchor="end" transform="translate(292.65,707.60) rotate(-45)">13.6</text>
<path d="M299.86,685.97 V683.56 M298.26,683.56 H301.46" stroke="#111" stroke-width="0.95" fill="none"/>
<path d="M303.96,685.97 V682.76 M302.36,682.76 H305.56" stroke="#111" stroke-width="0.95" fill="none"/>
<rect x="297.86" y="685.97" width="4.00" height="13.63" fill="#000"/>
<rect x="301.86" y="685.97" width="4.20" height="13.63" fill="url(#hatch)" stroke="#000" stroke-width="0.9"/>
<line x1="301.96" y1="699.60" x2="301.96" y2="701.60" stroke="#111" stroke-width="0.9" />
<text x="0" y="0" font-size="6.8" text-anchor="end" transform="translate(304.46,707.60) rotate(-45)">14.0</text>
<path d="M311.67,687.37 V683.96 M310.07,683.96 H313.27" stroke="#111" stroke-width="0.95" fill="none"/>
<path d="M315.77,691.58 V690.38 M314.17,690.38 H317.37" stroke="#111" stroke-width="0.95" fill="none"/>
<rect x="309.67" y="687.37" width="4.00" height="12.23" fill="#000"/>
<rect x="313.67" y="691.58" width="4.20" height="8.02" fill="url(#hatch)" stroke="#000" stroke-width="0.9"/>
<line x1="313.77" y1="699.60" x2="313.77" y2="701.60" stroke="#111" stroke-width="0.9" />
<text x="0" y="0" font-size="6.8" text-anchor="end" transform="translate(316.27,707.60) rotate(-45)">16.0</text>
<path d="M323.48,687.17 V682.36 M321.88,682.36 H325.08" stroke="#111" stroke-width="0.95" fill="none"/>
<path d="M327.58,686.37 V682.36 M325.98,682.36 H329.18" stroke="#111" stroke-width="0.95" fill="none"/>
<rect x="321.48" y="687.17" width="4.00" height="12.43" fill="#000"/>
<rect x="325.48" y="686.37" width="4.20" height="13.23" fill="url(#hatch)" stroke="#000" stroke-width="0.9"/>
<line x1="325.58" y1="699.60" x2="325.58" y2="701.60" stroke="#111" stroke-width="0.9" />
<text x="0" y="0" font-size="6.8" text-anchor="end" transform="translate(328.08,707.60) rotate(-45)">17.0</text>
<path d="M335.29,695.59 V693.99 M333.69,693.99 H336.89" stroke="#111" stroke-width="0.95" fill="none"/>
<path d="M339.39,696.39 V695.99 M337.79,695.99 H340.99" stroke="#111" stroke-width="0.95" fill="none"/>
<rect x="333.29" y="695.59" width="4.00" height="4.01" fill="#000"/>
<rect x="337.29" y="696.39" width="4.20" height="3.21" fill="url(#hatch)" stroke="#000" stroke-width="0.9"/>
<line x1="337.39" y1="699.60" x2="337.39" y2="701.60" stroke="#111" stroke-width="0.9" />
<text x="0" y="0" font-size="6.8" text-anchor="end" transform="translate(339.89,707.60) rotate(-45)">18.0</text>
<path d="M347.10,687.97 V681.76 M345.50,681.76 H348.70" stroke="#111" stroke-width="0.95" fill="none"/>
<path d="M351.20,685.97 V682.36 M349.60,682.36 H352.80" stroke="#111" stroke-width="0.95" fill="none"/>
<rect x="345.10" y="687.97" width="4.00" height="11.63" fill="#000"/>
<rect x="349.10" y="685.97" width="4.20" height="13.63" fill="url(#hatch)" stroke="#000" stroke-width="0.9"/>
<line x1="349.20" y1="699.60" x2="349.20" y2="701.60" stroke="#111" stroke-width="0.9" />
<text x="0" y="0" font-size="6.8" text-anchor="end" transform="translate(351.70,707.60) rotate(-45)">20.0</text>
<path d="M358.91,689.17 V687.57 M357.31,687.57 H360.51" stroke="#111" stroke-width="0.95" fill="none"/>
<path d="M363.01,679.55 V669.93 M361.41,669.93 H364.61" stroke="#111" stroke-width="0.95" fill="none"/>
<rect x="356.91" y="689.17" width="4.00" height="10.43" fill="#000"/>
<rect x="360.91" y="679.55" width="4.20" height="20.05" fill="url(#hatch)" stroke="#000" stroke-width="0.9"/>
<line x1="361.01" y1="699.60" x2="361.01" y2="701.60" stroke="#111" stroke-width="0.9" />
<text x="0" y="0" font-size="6.8" text-anchor="end" transform="translate(363.51,707.60) rotate(-45)">21.3</text>
<path d="M370.72,675.14 V667.52 M369.12,667.52 H372.32" stroke="#111" stroke-width="0.95" fill="none"/>
<path d="M374.82,686.37 V683.96 M373.22,683.96 H376.42" stroke="#111" stroke-width="0.95" fill="none"/>
<rect x="368.72" y="675.14" width="4.00" height="24.46" fill="#000"/>
<rect x="372.72" y="686.37" width="4.20" height="13.23" fill="url(#hatch)" stroke="#000" stroke-width="0.9"/>
<line x1="372.82" y1="699.60" x2="372.82" y2="701.60" stroke="#111" stroke-width="0.9" />
<text x="0" y="0" font-size="6.8" text-anchor="end" transform="translate(375.32,707.60) rotate(-45)">22.0</text>
<path d="M382.53,695.99 V695.19 M380.93,695.19 H384.13" stroke="#111" stroke-width="0.95" fill="none"/>
<path d="M386.63,693.79 V692.38 M385.03,692.38 H388.23" stroke="#111" stroke-width="0.95" fill="none"/>
<rect x="380.53" y="695.99" width="4.00" height="3.61" fill="#000"/>
<rect x="384.53" y="693.79" width="4.20" height="5.81" fill="url(#hatch)" stroke="#000" stroke-width="0.9"/>
<line x1="384.63" y1="699.60" x2="384.63" y2="701.60" stroke="#111" stroke-width="0.9" />
<text x="0" y="0" font-size="6.8" text-anchor="end" transform="translate(387.13,707.60) rotate(-45)">23.0</text>
<line x1="106.50" y1="727.10" x2="106.50" y2="808.60" stroke="#111" stroke-width="1.1" />
<line x1="106.20" y1="808.00" x2="389.00" y2="808.00" stroke="#111" stroke-width="1.2" />
<line x1="104.30" y1="808.00" x2="106.50" y2="808.00" stroke="#111" stroke-width="1.0" />
<text x="0" y="0" font-size="6.5" text-anchor="end" transform="translate(104.50,810.30) scale(1.3,1)">0</text>
<line x1="104.30" y1="787.90" x2="106.50" y2="787.90" stroke="#111" stroke-width="1.0" />
<text x="0" y="0" font-size="6.5" text-anchor="end" transform="translate(104.50,790.20) scale(1.3,1)">5</text>
<line x1="104.30" y1="767.80" x2="106.50" y2="767.80" stroke="#111" stroke-width="1.0" />
<text x="0" y="0" font-size="6.5" text-anchor="end" transform="translate(104.50,770.10) scale(1.3,1)">10</text>
<line x1="104.30" y1="747.70" x2="106.50" y2="747.70" stroke="#111" stroke-width="1.0" />
<text x="0" y="0" font-size="6.5" text-anchor="end" transform="translate(104.50,750.00) scale(1.3,1)">15</text>
<line x1="104.30" y1="727.60" x2="106.50" y2="727.60" stroke="#111" stroke-width="1.0" />
<text x="0" y="0" font-size="6.5" text-anchor="end" transform="translate(104.50,729.90) scale(1.3,1)">20</text>
<path d="M110.90,792.32 V786.69 M109.30,786.69 H112.50" stroke="#111" stroke-width="0.95" fill="none"/>
<path d="M115.00,797.15 V793.53 M113.40,793.53 H116.60" stroke="#111" stroke-width="0.95" fill="none"/>
<rect x="108.90" y="792.32" width="4.00" height="15.68" fill="#000"/>
<rect x="112.90" y="797.15" width="4.20" height="10.85" fill="url(#hatch)" stroke="#000" stroke-width="0.9"/>
<line x1="113.00" y1="808.00" x2="113.00" y2="810.00" stroke="#111" stroke-width="0.9" />
<text x="0" y="0" font-size="6.8" text-anchor="end" transform="translate(115.50,816.00) rotate(-45)">1.0</text>
<path d="M122.71,781.87 V776.64 M121.11,776.64 H124.31" stroke="#111" stroke-width="0.95" fill="none"/>
<path d="M126.81,785.89 V779.46 M125.21,779.46 H128.41" stroke="#111" stroke-width="0.95" fill="none"/>
<rect x="120.71" y="781.87" width="4.00" height="26.13" fill="#000"/>
<rect x="124.71" y="785.89" width="4.20" height="22.11" fill="url(#hatch)" stroke="#000" stroke-width="0.9"/>
<line x1="124.81" y1="808.00" x2="124.81" y2="810.00" stroke="#111" stroke-width="0.9" />
<text x="0" y="0" font-size="6.8" text-anchor="end" transform="translate(127.31,816.00) rotate(-45)">2.0</text>
<path d="M134.52,785.49 V775.44 M132.92,775.44 H136.12" stroke="#111" stroke-width="0.95" fill="none"/>
<path d="M138.62,800.36 V795.14 M137.02,795.14 H140.22" stroke="#111" stroke-width="0.95" fill="none"/>
<rect x="132.52" y="785.49" width="4.00" height="22.51" fill="#000"/>
<rect x="136.52" y="800.36" width="4.20" height="7.64" fill="url(#hatch)" stroke="#000" stroke-width="0.9"/>
<line x1="136.62" y1="808.00" x2="136.62" y2="810.00" stroke="#111" stroke-width="0.9" />
<text x="0" y="0" font-size="6.8" text-anchor="end" transform="translate(139.12,816.00) rotate(-45)">3.0</text>
<path d="M146.33,799.76 V798.75 M144.73,798.75 H147.93" stroke="#111" stroke-width="0.95" fill="none"/>
<path d="M150.43,802.37 V801.57 M148.83,801.57 H152.03" stroke="#111" stroke-width="0.95" fill="none"/>
<rect x="144.33" y="799.76" width="4.00" height="8.24" fill="#000"/>
<rect x="148.33" y="802.37" width="4.20" height="5.63" fill="url(#hatch)" stroke="#000" stroke-width="0.9"/>
<line x1="148.43" y1="808.00" x2="148.43" y2="810.00" stroke="#111" stroke-width="0.9" />
<text x="0" y="0" font-size="6.8" text-anchor="end" transform="translate(150.93,816.00) rotate(-45)">4.0</text>
<path d="M158.14,788.30 V785.49 M156.54,785.49 H159.74" stroke="#111" stroke-width="0.95" fill="none"/>
<path d="M162.24,787.50 V779.46 M160.64,779.46 H163.84" stroke="#111" stroke-width="0.95" fill="none"/>
<rect x="156.14" y="788.30" width="4.00" height="19.70" fill="#000"/>
<rect x="160.14" y="787.50" width="4.20" height="20.50" fill="url(#hatch)" stroke="#000" stroke-width="0.9"/>
<line x1="160.24" y1="808.00" x2="160.24" y2="810.00" stroke="#111" stroke-width="0.9" />
<text x="0" y="0" font-size="6.8" text-anchor="end" transform="translate(162.74,816.00) rotate(-45)">5.1</text>
<path d="M169.95,796.74 V790.11 M168.35,790.11 H171.55" stroke="#111" stroke-width="0.95" fill="none"/>
<path d="M174.05,804.99 V804.38 M172.45,804.38 H175.65" stroke="#111" stroke-width="0.95" fill="none"/>
<rect x="167.95" y="796.74" width="4.00" height="11.26" fill="#000"/>
<rect x="171.95" y="804.99" width="4.20" height="3.01" fill="url(#hatch)" stroke="#000" stroke-width="0.9"/>
<line x1="172.05" y1="808.00" x2="172.05" y2="810.00" stroke="#111" stroke-width="0.9" />
<text x="0" y="0" font-size="6.8" text-anchor="end" transform="translate(174.55,816.00) rotate(-45)">5.2</text>
<path d="M181.76,801.57 V798.96 M180.16,798.96 H183.36" stroke="#111" stroke-width="0.95" fill="none"/>
<path d="M185.86,806.39 V805.99 M184.26,805.99 H187.46" stroke="#111" stroke-width="0.95" fill="none"/>
<rect x="179.76" y="801.57" width="4.00" height="6.43" fill="#000"/>
<rect x="183.76" y="806.39" width="4.20" height="1.61" fill="url(#hatch)" stroke="#000" stroke-width="0.9"/>
<line x1="183.86" y1="808.00" x2="183.86" y2="810.00" stroke="#111" stroke-width="0.9" />
<text x="0" y="0" font-size="6.8" text-anchor="end" transform="translate(186.36,816.00) rotate(-45)">5.3</text>
<path d="M193.57,790.91 V785.89 M191.97,785.89 H195.17" stroke="#111" stroke-width="0.95" fill="none"/>
<path d="M197.67,798.96 V797.55 M196.07,797.55 H199.27" stroke="#111" stroke-width="0.95" fill="none"/>
<rect x="191.57" y="790.91" width="4.00" height="17.09" fill="#000"/>
<rect x="195.57" y="798.96" width="4.20" height="9.04" fill="url(#hatch)" stroke="#000" stroke-width="0.9"/>
<line x1="195.67" y1="808.00" x2="195.67" y2="810.00" stroke="#111" stroke-width="0.9" />
<text x="0" y="0" font-size="6.8" text-anchor="end" transform="translate(198.17,816.00) rotate(-45)">7.1</text>
<path d="M205.38,798.35 V793.53 M203.78,793.53 H206.98" stroke="#111" stroke-width="0.95" fill="none"/>
<path d="M209.48,805.19 V804.78 M207.88,804.78 H211.08" stroke="#111" stroke-width="0.95" fill="none"/>
<rect x="203.38" y="798.35" width="4.00" height="9.65" fill="#000"/>
<rect x="207.38" y="805.19" width="4.20" height="2.81" fill="url(#hatch)" stroke="#000" stroke-width="0.9"/>
<line x1="207.48" y1="808.00" x2="207.48" y2="810.00" stroke="#111" stroke-width="0.9" />
<text x="0" y="0" font-size="6.8" text-anchor="end" transform="translate(209.98,816.00) rotate(-45)">7.2</text>
<path d="M217.19,798.96 V797.55 M215.59,797.55 H218.79" stroke="#111" stroke-width="0.95" fill="none"/>
<path d="M221.29,787.50 V781.07 M219.69,781.07 H222.89" stroke="#111" stroke-width="0.95" fill="none"/>
<rect x="215.19" y="798.96" width="4.00" height="9.04" fill="#000"/>
<rect x="219.19" y="787.50" width="4.20" height="20.50" fill="url(#hatch)" stroke="#000" stroke-width="0.9"/>
<line x1="219.29" y1="808.00" x2="219.29" y2="810.00" stroke="#111" stroke-width="0.9" />
<text x="0" y="0" font-size="6.8" text-anchor="end" transform="translate(221.79,816.00) rotate(-45)">8.0</text>
<path d="M229.00,799.76 V797.95 M227.40,797.95 H230.60" stroke="#111" stroke-width="0.95" fill="none"/>
<path d="M233.10,801.97 V801.17 M231.50,801.17 H234.70" stroke="#111" stroke-width="0.95" fill="none"/>
<rect x="227.00" y="799.76" width="4.00" height="8.24" fill="#000"/>
<rect x="231.00" y="801.97" width="4.20" height="6.03" fill="url(#hatch)" stroke="#000" stroke-width="0.9"/>
<line x1="231.10" y1="808.00" x2="231.10" y2="810.00" stroke="#111" stroke-width="0.9" />
<text x="0" y="0" font-size="6.8" text-anchor="end" transform="translate(233.60,816.00) rotate(-45)">9.0</text>
<path d="M240.81,801.57 V798.35 M239.21,798.35 H242.41" stroke="#111" stroke-width="0.95" fill="none"/>
<path d="M244.91,805.59 V805.19 M243.31,805.19 H246.51" stroke="#111" stroke-width="0.95" fill="none"/>
<rect x="238.81" y="801.57" width="4.00" height="6.43" fill="#000"/>
<rect x="242.81" y="805.59" width="4.20" height="2.41" fill="url(#hatch)" stroke="#000" stroke-width="0.9"/>
<line x1="242.91" y1="808.00" x2="242.91" y2="810.00" stroke="#111" stroke-width="0.9" />
<text x="0" y="0" font-size="6.8" text-anchor="end" transform="translate(245.41,816.00) rotate(-45)">11.0</text>
<path d="M252.62,804.38 V803.58 M251.02,803.58 H254.22" stroke="#111" stroke-width="0.95" fill="none"/>
<path d="M256.72,801.97 V799.96 M255.12,799.96 H258.32" stroke="#111" stroke-width="0.95" fill="none"/>
<rect x="250.62" y="804.38" width="4.00" height="3.62" fill="#000"/>
<rect x="254.62" y="801.97" width="4.20" height="6.03" fill="url(#hatch)" stroke="#000" stroke-width="0.9"/>
<line x1="254.72" y1="808.00" x2="254.72" y2="810.00" stroke="#111" stroke-width="0.9" />
<text x="0" y="0" font-size="6.8" text-anchor="end" transform="translate(257.22,816.00) rotate(-45)">12.0</text>
<path d="M264.43,767.80 V746.90 M262.83,746.90 H266.03" stroke="#111" stroke-width="0.95" fill="none"/>
<path d="M268.53,799.16 V796.34 M266.93,796.34 H270.13" stroke="#111" stroke-width="0.95" fill="none"/>
<rect x="262.43" y="767.80" width="4.00" height="40.20" fill="#000"/>
<rect x="266.43" y="799.16" width="4.20" height="8.84" fill="url(#hatch)" stroke="#000" stroke-width="0.9"/>
<line x1="266.53" y1="808.00" x2="266.53" y2="810.00" stroke="#111" stroke-width="0.9" />
<text x="0" y="0" font-size="6.8" text-anchor="end" transform="translate(269.03,816.00) rotate(-45)">13.1</text>
<path d="M276.24,797.15 V794.73 M274.64,794.73 H277.84" stroke="#111" stroke-width="0.95" fill="none"/>
<path d="M280.34,795.14 V786.69 M278.74,786.69 H281.94" stroke="#111" stroke-width="0.95" fill="none"/>
<rect x="274.24" y="797.15" width="4.00" height="10.85" fill="#000"/>
<rect x="278.24" y="795.14" width="4.20" height="12.86" fill="url(#hatch)" stroke="#000" stroke-width="0.9"/>
<line x1="278.34" y1="808.00" x2="278.34" y2="810.00" stroke="#111" stroke-width="0.9" />
<text x="0" y="0" font-size="6.8" text-anchor="end" transform="translate(280.84,816.00) rotate(-45)">13.2</text>
<path d="M288.05,798.75 V795.54 M286.45,795.54 H289.65" stroke="#111" stroke-width="0.95" fill="none"/>
<path d="M292.15,800.97 V799.96 M290.55,799.96 H293.75" stroke="#111" stroke-width="0.95" fill="none"/>
<rect x="286.05" y="798.75" width="4.00" height="9.25" fill="#000"/>
<rect x="290.05" y="800.97" width="4.20" height="7.03" fill="url(#hatch)" stroke="#000" stroke-width="0.9"/>
<line x1="290.15" y1="808.00" x2="290.15" y2="810.00" stroke="#111" stroke-width="0.9" />
<text x="0" y="0" font-size="6.8" text-anchor="end" transform="translate(292.65,816.00) rotate(-45)">13.6</text>
<path d="M299.86,778.65 V768.40 M298.26,768.40 H301.46" stroke="#111" stroke-width="0.95" fill="none"/>
<path d="M303.96,795.54 V794.73 M302.36,794.73 H305.56" stroke="#111" stroke-width="0.95" fill="none"/>
<rect x="297.86" y="778.65" width="4.00" height="29.35" fill="#000"/>
<rect x="301.86" y="795.54" width="4.20" height="12.46" fill="url(#hatch)" stroke="#000" stroke-width="0.9"/>
<line x1="301.96" y1="808.00" x2="301.96" y2="810.00" stroke="#111" stroke-width="0.9" />
<text x="0" y="0" font-size="6.8" text-anchor="end" transform="translate(304.46,816.00) rotate(-45)">14.0</text>
<path d="M311.67,802.98 V801.57 M310.07,801.57 H313.27" stroke="#111" stroke-width="0.95" fill="none"/>
<path d="M315.77,805.59 V805.19 M314.17,805.19 H317.37" stroke="#111" stroke-width="0.95" fill="none"/>
<rect x="309.67" y="802.98" width="4.00" height="5.02" fill="#000"/>
<rect x="313.67" y="805.59" width="4.20" height="2.41" fill="url(#hatch)" stroke="#000" stroke-width="0.9"/>
<line x1="313.77" y1="808.00" x2="313.77" y2="810.00" stroke="#111" stroke-width="0.9" />
<text x="0" y="0" font-size="6.8" text-anchor="end" transform="translate(316.27,816.00) rotate(-45)">16.0</text>
<path d="M323.48,782.27 V776.24 M321.88,776.24 H325.08" stroke="#111" stroke-width="0.95" fill="none"/>
<path d="M327.58,796.74 V793.93 M325.98,793.93 H329.18" stroke="#111" stroke-width="0.95" fill="none"/>
<rect x="321.48" y="782.27" width="4.00" height="25.73" fill="#000"/>
<rect x="325.48" y="796.74" width="4.20" height="11.26" fill="url(#hatch)" stroke="#000" stroke-width="0.9"/>
<line x1="325.58" y1="808.00" x2="325.58" y2="810.00" stroke="#111" stroke-width="0.9" />
<text x="0" y="0" font-size="6.8" text-anchor="end" transform="translate(328.08,816.00) rotate(-45)">17.0</text>
<path d="M335.29,804.38 V803.98 M333.69,803.98 H336.89" stroke="#111" stroke-width="0.95" fill="none"/>
<path d="M339.39,803.58 V803.18 M337.79,803.18 H340.99" stroke="#111" stroke-width="0.95" fill="none"/>
<rect x="333.29" y="804.38" width="4.00" height="3.62" fill="#000"/>
<rect x="337.29" y="803.58" width="4.20" height="4.42" fill="url(#hatch)" stroke="#000" stroke-width="0.9"/>
<line x1="337.39" y1="808.00" x2="337.39" y2="810.00" stroke="#111" stroke-width="0.9" />
<text x="0" y="0" font-size="6.8" text-anchor="end" transform="translate(339.89,816.00) rotate(-45)">18.0</text>
<path d="M347.10,802.98 V801.57 M345.50,801.57 H348.70" stroke="#111" stroke-width="0.95" fill="none"/>
<path d="M351.20,798.75 V795.34 M349.60,795.34 H352.80" stroke="#111" stroke-width="0.95" fill="none"/>
<rect x="345.10" y="802.98" width="4.00" height="5.02" fill="#000"/>
<rect x="349.10" y="798.75" width="4.20" height="9.25" fill="url(#hatch)" stroke="#000" stroke-width="0.9"/>
<line x1="349.20" y1="808.00" x2="349.20" y2="810.00" stroke="#111" stroke-width="0.9" />
<text x="0" y="0" font-size="6.8" text-anchor="end" transform="translate(351.70,816.00) rotate(-45)">20.0</text>
<path d="M358.91,798.15 V795.34 M357.31,795.34 H360.51" stroke="#111" stroke-width="0.95" fill="none"/>
<path d="M363.01,803.58 V801.17 M361.41,801.17 H364.61" stroke="#111" stroke-width="0.95" fill="none"/>
<rect x="356.91" y="798.15" width="4.00" height="9.85" fill="#000"/>
<rect x="360.91" y="803.58" width="4.20" height="4.42" fill="url(#hatch)" stroke="#000" stroke-width="0.9"/>
<line x1="361.01" y1="808.00" x2="361.01" y2="810.00" stroke="#111" stroke-width="0.9" />
<text x="0" y="0" font-size="6.8" text-anchor="end" transform="translate(363.51,816.00) rotate(-45)">21.3</text>
<path d="M370.72,789.11 V785.49 M369.12,785.49 H372.32" stroke="#111" stroke-width="0.95" fill="none"/>
<path d="M374.82,795.94 V792.32 M373.22,792.32 H376.42" stroke="#111" stroke-width="0.95" fill="none"/>
<rect x="368.72" y="789.11" width="4.00" height="18.89" fill="#000"/>
<rect x="372.72" y="795.94" width="4.20" height="12.06" fill="url(#hatch)" stroke="#000" stroke-width="0.9"/>
<line x1="372.82" y1="808.00" x2="372.82" y2="810.00" stroke="#111" stroke-width="0.9" />
<text x="0" y="0" font-size="6.8" text-anchor="end" transform="translate(375.32,816.00) rotate(-45)">22.0</text>
<path d="M382.53,804.38 V803.58 M380.93,803.58 H384.13" stroke="#111" stroke-width="0.95" fill="none"/>
<path d="M386.63,802.37 V799.56 M385.03,799.56 H388.23" stroke="#111" stroke-width="0.95" fill="none"/>
<rect x="380.53" y="804.38" width="4.00" height="3.62" fill="#000"/>
<rect x="384.53" y="802.37" width="4.20" height="5.63" fill="url(#hatch)" stroke="#000" stroke-width="0.9"/>
<line x1="384.63" y1="808.00" x2="384.63" y2="810.00" stroke="#111" stroke-width="0.9" />
<text x="0" y="0" font-size="6.8" text-anchor="end" transform="translate(387.13,816.00) rotate(-45)">23.0</text>
<text x="66.30" y="655.20" font-size="10.6" text-anchor="middle" fill="#000" >Without</text>
<text x="66.30" y="668.30" font-size="10.5" text-anchor="middle" fill="#000" >AP1903</text>
<text x="65.80" y="765.00" font-size="10.6" text-anchor="middle" fill="#000" >With</text>
<text x="66.00" y="777.80" font-size="10.6" text-anchor="middle" fill="#000" >AP1903</text>
<text x="0" y="0" font-size="9.6" text-anchor="middle" dominant-baseline="central" transform="translate(7.50,761.20) rotate(-90)">Frequency (%)</text>
<rect x="322.6" y="616.5" width="10.2" height="7.7" fill="#000"/>
<rect x="323.1" y="627.3" width="9.3" height="6.6" fill="url(#hatch)" stroke="#000" stroke-width="1"/>
<text x="0" y="0" font-size="7.6" transform="translate(337.6,624.0) scale(1.12,1)">CD3<tspan font-size="5.2" dy="-3">+</tspan><tspan dy="3">CD19</tspan><tspan font-size="5.2" dy="-3">+</tspan></text>
<text x="0" y="0" font-size="7.6" transform="translate(337.6,634.2) scale(1.12,1)">CD3<tspan font-size="5.2" dy="-3">+</tspan><tspan dy="3">CD19</tspan><tspan font-size="5.2" dy="-3">-</tspan></text>
<path d="M5.2,823.9 V802.6 M1.2,809.3 L5.2,802.0 L9.2,809.3" fill="none" stroke="#000" stroke-width="1.8"/>
<path d="M4.3,823.2 H25.6 M17.6,819.2 L26.2,823.2 L17.6,827.2" fill="none" stroke="#000" stroke-width="1.8"/>
<text x="30.40" y="826.00" font-size="9.45" text-anchor="start" fill="#000" >TCR Vβ chain</text>
</svg></body></html>
